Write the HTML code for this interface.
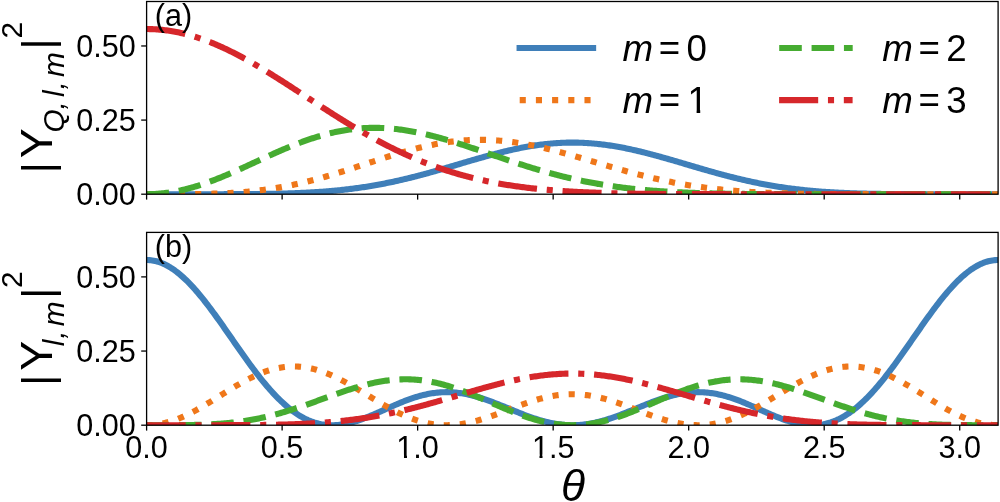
<!DOCTYPE html>
<html lang="en"><head><meta charset="utf-8"><title>Monopole harmonics</title>
<style>
html,body{margin:0;padding:0;background:#fff;}
body{width:1000px;height:502px;overflow:hidden;}
svg{display:block;will-change:transform;}
text{font-family:"Liberation Sans", sans-serif;fill:#000;}
.it{font-style:italic;}
</style></head><body>
<svg width="1000" height="502" viewBox="0 0 1000 502">
<rect width="1000" height="502" fill="#fff"/>
<defs>
<clipPath id="ca"><rect x="146.60" y="1.50" width="851.50" height="192.70"/></clipPath>
<clipPath id="cb"><rect x="146.60" y="232.40" width="851.50" height="192.80"/></clipPath>
</defs>
<g clip-path="url(#ca)" fill="none" stroke-width="6.107" stroke-linejoin="round">
<path d="M146.60,194.20 L148.02,194.20 L149.44,194.20 L150.86,194.20 L152.28,194.20 L153.70,194.20 L155.11,194.20 L156.53,194.20 L157.95,194.20 L159.37,194.20 L160.79,194.20 L162.21,194.20 L163.63,194.20 L165.05,194.20 L166.47,194.20 L167.89,194.20 L169.31,194.20 L170.73,194.20 L172.14,194.20 L173.56,194.20 L174.98,194.20 L176.40,194.20 L177.82,194.20 L179.24,194.20 L180.66,194.20 L182.08,194.20 L183.50,194.20 L184.92,194.20 L186.34,194.20 L187.76,194.20 L189.18,194.20 L190.59,194.20 L192.01,194.20 L193.43,194.20 L194.85,194.20 L196.27,194.20 L197.69,194.20 L199.11,194.20 L200.53,194.20 L201.95,194.20 L203.37,194.20 L204.79,194.20 L206.20,194.19 L207.62,194.19 L209.04,194.19 L210.46,194.19 L211.88,194.19 L213.30,194.19 L214.72,194.19 L216.14,194.19 L217.56,194.18 L218.98,194.18 L220.40,194.18 L221.82,194.18 L223.23,194.18 L224.65,194.17 L226.07,194.17 L227.49,194.17 L228.91,194.16 L230.33,194.16 L231.75,194.16 L233.17,194.15 L234.59,194.15 L236.01,194.14 L237.43,194.13 L238.85,194.13 L240.26,194.12 L241.68,194.11 L243.10,194.11 L244.52,194.10 L245.94,194.09 L247.36,194.08 L248.78,194.07 L250.20,194.06 L251.62,194.05 L253.04,194.04 L254.46,194.03 L255.88,194.01 L257.29,194.00 L258.71,193.98 L260.13,193.97 L261.55,193.95 L262.97,193.93 L264.39,193.91 L265.81,193.89 L267.23,193.87 L268.65,193.85 L270.07,193.83 L271.49,193.80 L272.91,193.78 L274.32,193.75 L275.74,193.72 L277.16,193.69 L278.58,193.66 L280.00,193.63 L281.42,193.59 L282.84,193.55 L284.26,193.52 L285.68,193.48 L287.10,193.44 L288.52,193.39 L289.94,193.35 L291.36,193.30 L292.77,193.25 L294.19,193.20 L295.61,193.15 L297.03,193.10 L298.45,193.04 L299.87,192.98 L301.29,192.92 L302.71,192.85 L304.13,192.79 L305.55,192.72 L306.97,192.65 L308.38,192.57 L309.80,192.50 L311.22,192.42 L312.64,192.33 L314.06,192.25 L315.48,192.16 L316.90,192.07 L318.32,191.98 L319.74,191.88 L321.16,191.78 L322.58,191.68 L324.00,191.57 L325.41,191.46 L326.83,191.35 L328.25,191.24 L329.67,191.12 L331.09,190.99 L332.51,190.87 L333.93,190.74 L335.35,190.61 L336.77,190.47 L338.19,190.33 L339.61,190.18 L341.03,190.04 L342.44,189.88 L343.86,189.73 L345.28,189.57 L346.70,189.40 L348.12,189.24 L349.54,189.07 L350.96,188.89 L352.38,188.71 L353.80,188.53 L355.22,188.34 L356.64,188.15 L358.06,187.95 L359.47,187.75 L360.89,187.54 L362.31,187.34 L363.73,187.12 L365.15,186.90 L366.57,186.68 L367.99,186.46 L369.41,186.23 L370.83,185.99 L372.25,185.75 L373.67,185.51 L375.09,185.26 L376.50,185.01 L377.92,184.75 L379.34,184.49 L380.76,184.22 L382.18,183.95 L383.60,183.68 L385.02,183.40 L386.44,183.12 L387.86,182.83 L389.28,182.54 L390.70,182.24 L392.12,181.94 L393.53,181.64 L394.95,181.33 L396.37,181.02 L397.79,180.70 L399.21,180.38 L400.63,180.06 L402.05,179.73 L403.47,179.40 L404.89,179.06 L406.31,178.72 L407.73,178.38 L409.15,178.03 L410.56,177.68 L411.98,177.33 L413.40,176.97 L414.82,176.61 L416.24,176.24 L417.66,175.87 L419.08,175.50 L420.50,175.13 L421.92,174.75 L423.34,174.37 L424.76,173.99 L426.18,173.60 L427.60,173.21 L429.01,172.82 L430.43,172.43 L431.85,172.03 L433.27,171.63 L434.69,171.23 L436.11,170.83 L437.53,170.43 L438.95,170.02 L440.37,169.61 L441.79,169.20 L443.21,168.79 L444.62,168.38 L446.04,167.96 L447.46,167.55 L448.88,167.13 L450.30,166.72 L451.72,166.30 L453.14,165.88 L454.56,165.46 L455.98,165.04 L457.40,164.62 L458.82,164.20 L460.24,163.78 L461.65,163.36 L463.07,162.94 L464.49,162.53 L465.91,162.11 L467.33,161.69 L468.75,161.27 L470.17,160.86 L471.59,160.44 L473.01,160.03 L474.43,159.62 L475.85,159.21 L477.27,158.80 L478.68,158.40 L480.10,157.99 L481.52,157.59 L482.94,157.19 L484.36,156.80 L485.78,156.40 L487.20,156.01 L488.62,155.62 L490.04,155.24 L491.46,154.85 L492.88,154.48 L494.30,154.10 L495.71,153.73 L497.13,153.36 L498.55,153.00 L499.97,152.64 L501.39,152.29 L502.81,151.93 L504.23,151.59 L505.65,151.25 L507.07,150.91 L508.49,150.58 L509.91,150.25 L511.33,149.93 L512.75,149.62 L514.16,149.31 L515.58,149.00 L517.00,148.70 L518.42,148.41 L519.84,148.12 L521.26,147.84 L522.68,147.57 L524.10,147.30 L525.52,147.04 L526.94,146.78 L528.36,146.53 L529.77,146.29 L531.19,146.06 L532.61,145.83 L534.03,145.61 L535.45,145.39 L536.87,145.19 L538.29,144.99 L539.71,144.80 L541.13,144.61 L542.55,144.44 L543.97,144.27 L545.39,144.11 L546.80,143.95 L548.22,143.81 L549.64,143.67 L551.06,143.54 L552.48,143.42 L553.90,143.31 L555.32,143.20 L556.74,143.10 L558.16,143.02 L559.58,142.94 L561.00,142.86 L562.42,142.80 L563.84,142.75 L565.25,142.70 L566.67,142.66 L568.09,142.63 L569.51,142.61 L570.93,142.60 L572.35,142.59 L573.77,142.60 L575.19,142.61 L576.61,142.63 L578.03,142.66 L579.45,142.70 L580.87,142.75 L582.28,142.80 L583.70,142.86 L585.12,142.94 L586.54,143.02 L587.96,143.10 L589.38,143.20 L590.80,143.31 L592.22,143.42 L593.64,143.54 L595.06,143.67 L596.48,143.81 L597.89,143.95 L599.31,144.11 L600.73,144.27 L602.15,144.44 L603.57,144.61 L604.99,144.80 L606.41,144.99 L607.83,145.19 L609.25,145.39 L610.67,145.61 L612.09,145.83 L613.51,146.06 L614.92,146.29 L616.34,146.53 L617.76,146.78 L619.18,147.04 L620.60,147.30 L622.02,147.57 L623.44,147.84 L624.86,148.12 L626.28,148.41 L627.70,148.70 L629.12,149.00 L630.54,149.31 L631.95,149.62 L633.37,149.93 L634.79,150.25 L636.21,150.58 L637.63,150.91 L639.05,151.25 L640.47,151.59 L641.89,151.93 L643.31,152.29 L644.73,152.64 L646.15,153.00 L647.57,153.36 L648.99,153.73 L650.40,154.10 L651.82,154.48 L653.24,154.85 L654.66,155.24 L656.08,155.62 L657.50,156.01 L658.92,156.40 L660.34,156.80 L661.76,157.19 L663.18,157.59 L664.60,157.99 L666.01,158.40 L667.43,158.80 L668.85,159.21 L670.27,159.62 L671.69,160.03 L673.11,160.44 L674.53,160.86 L675.95,161.27 L677.37,161.69 L678.79,162.11 L680.21,162.53 L681.63,162.94 L683.05,163.36 L684.46,163.78 L685.88,164.20 L687.30,164.62 L688.72,165.04 L690.14,165.46 L691.56,165.88 L692.98,166.30 L694.40,166.72 L695.82,167.13 L697.24,167.55 L698.66,167.96 L700.08,168.38 L701.49,168.79 L702.91,169.20 L704.33,169.61 L705.75,170.02 L707.17,170.43 L708.59,170.83 L710.01,171.23 L711.43,171.63 L712.85,172.03 L714.27,172.43 L715.69,172.82 L717.10,173.21 L718.52,173.60 L719.94,173.99 L721.36,174.37 L722.78,174.75 L724.20,175.13 L725.62,175.50 L727.04,175.87 L728.46,176.24 L729.88,176.61 L731.30,176.97 L732.72,177.33 L734.13,177.68 L735.55,178.03 L736.97,178.38 L738.39,178.72 L739.81,179.06 L741.23,179.40 L742.65,179.73 L744.07,180.06 L745.49,180.38 L746.91,180.70 L748.33,181.02 L749.75,181.33 L751.16,181.64 L752.58,181.94 L754.00,182.24 L755.42,182.54 L756.84,182.83 L758.26,183.12 L759.68,183.40 L761.10,183.68 L762.52,183.95 L763.94,184.22 L765.36,184.49 L766.78,184.75 L768.20,185.01 L769.61,185.26 L771.03,185.51 L772.45,185.75 L773.87,185.99 L775.29,186.23 L776.71,186.46 L778.13,186.68 L779.55,186.90 L780.97,187.12 L782.39,187.34 L783.81,187.54 L785.23,187.75 L786.64,187.95 L788.06,188.15 L789.48,188.34 L790.90,188.53 L792.32,188.71 L793.74,188.89 L795.16,189.07 L796.58,189.24 L798.00,189.40 L799.42,189.57 L800.84,189.73 L802.25,189.88 L803.67,190.04 L805.09,190.18 L806.51,190.33 L807.93,190.47 L809.35,190.61 L810.77,190.74 L812.19,190.87 L813.61,190.99 L815.03,191.12 L816.45,191.24 L817.87,191.35 L819.28,191.46 L820.70,191.57 L822.12,191.68 L823.54,191.78 L824.96,191.88 L826.38,191.98 L827.80,192.07 L829.22,192.16 L830.64,192.25 L832.06,192.33 L833.48,192.42 L834.90,192.50 L836.32,192.57 L837.73,192.65 L839.15,192.72 L840.57,192.79 L841.99,192.85 L843.41,192.92 L844.83,192.98 L846.25,193.04 L847.67,193.10 L849.09,193.15 L850.51,193.20 L851.93,193.25 L853.35,193.30 L854.76,193.35 L856.18,193.39 L857.60,193.44 L859.02,193.48 L860.44,193.52 L861.86,193.55 L863.28,193.59 L864.70,193.63 L866.12,193.66 L867.54,193.69 L868.96,193.72 L870.38,193.75 L871.79,193.78 L873.21,193.80 L874.63,193.83 L876.05,193.85 L877.47,193.87 L878.89,193.89 L880.31,193.91 L881.73,193.93 L883.15,193.95 L884.57,193.97 L885.99,193.98 L887.40,194.00 L888.82,194.01 L890.24,194.03 L891.66,194.04 L893.08,194.05 L894.50,194.06 L895.92,194.07 L897.34,194.08 L898.76,194.09 L900.18,194.10 L901.60,194.11 L903.02,194.11 L904.43,194.12 L905.85,194.13 L907.27,194.13 L908.69,194.14 L910.11,194.15 L911.53,194.15 L912.95,194.16 L914.37,194.16 L915.79,194.16 L917.21,194.17 L918.63,194.17 L920.05,194.17 L921.47,194.18 L922.88,194.18 L924.30,194.18 L925.72,194.18 L927.14,194.18 L928.56,194.19 L929.98,194.19 L931.40,194.19 L932.82,194.19 L934.24,194.19 L935.66,194.19 L937.08,194.19 L938.50,194.19 L939.91,194.20 L941.33,194.20 L942.75,194.20 L944.17,194.20 L945.59,194.20 L947.01,194.20 L948.43,194.20 L949.85,194.20 L951.27,194.20 L952.69,194.20 L954.11,194.20 L955.52,194.20 L956.94,194.20 L958.36,194.20 L959.78,194.20 L961.20,194.20 L962.62,194.20 L964.04,194.20 L965.46,194.20 L966.88,194.20 L968.30,194.20 L969.72,194.20 L971.14,194.20 L972.55,194.20 L973.97,194.20 L975.39,194.20 L976.81,194.20 L978.23,194.20 L979.65,194.20 L981.07,194.20 L982.49,194.20 L983.91,194.20 L985.33,194.20 L986.75,194.20 L988.17,194.20 L989.59,194.20 L991.00,194.20 L992.42,194.20 L993.84,194.20 L995.26,194.20 L996.68,194.20 L998.10,194.20" stroke="#3f7fb9" stroke-linecap="square"/>
<path d="M146.60,194.20 L148.02,194.20 L149.44,194.20 L150.86,194.20 L152.28,194.20 L153.70,194.20 L155.11,194.20 L156.53,194.20 L157.95,194.20 L159.37,194.20 L160.79,194.20 L162.21,194.20 L163.63,194.20 L165.05,194.20 L166.47,194.20 L167.89,194.19 L169.31,194.19 L170.73,194.19 L172.14,194.19 L173.56,194.19 L174.98,194.18 L176.40,194.18 L177.82,194.17 L179.24,194.17 L180.66,194.16 L182.08,194.16 L183.50,194.15 L184.92,194.14 L186.34,194.13 L187.76,194.12 L189.18,194.11 L190.59,194.10 L192.01,194.08 L193.43,194.07 L194.85,194.05 L196.27,194.03 L197.69,194.01 L199.11,193.99 L200.53,193.97 L201.95,193.94 L203.37,193.92 L204.79,193.89 L206.20,193.86 L207.62,193.83 L209.04,193.79 L210.46,193.75 L211.88,193.71 L213.30,193.67 L214.72,193.63 L216.14,193.58 L217.56,193.53 L218.98,193.48 L220.40,193.42 L221.82,193.36 L223.23,193.30 L224.65,193.23 L226.07,193.17 L227.49,193.09 L228.91,193.02 L230.33,192.94 L231.75,192.86 L233.17,192.77 L234.59,192.68 L236.01,192.59 L237.43,192.49 L238.85,192.39 L240.26,192.28 L241.68,192.17 L243.10,192.06 L244.52,191.94 L245.94,191.81 L247.36,191.69 L248.78,191.55 L250.20,191.42 L251.62,191.27 L253.04,191.13 L254.46,190.98 L255.88,190.82 L257.29,190.66 L258.71,190.49 L260.13,190.32 L261.55,190.14 L262.97,189.96 L264.39,189.78 L265.81,189.58 L267.23,189.39 L268.65,189.18 L270.07,188.98 L271.49,188.76 L272.91,188.54 L274.32,188.32 L275.74,188.09 L277.16,187.86 L278.58,187.62 L280.00,187.37 L281.42,187.12 L282.84,186.86 L284.26,186.60 L285.68,186.33 L287.10,186.06 L288.52,185.78 L289.94,185.49 L291.36,185.20 L292.77,184.91 L294.19,184.61 L295.61,184.30 L297.03,183.99 L298.45,183.67 L299.87,183.35 L301.29,183.02 L302.71,182.69 L304.13,182.35 L305.55,182.00 L306.97,181.66 L308.38,181.30 L309.80,180.94 L311.22,180.58 L312.64,180.21 L314.06,179.84 L315.48,179.46 L316.90,179.08 L318.32,178.69 L319.74,178.30 L321.16,177.91 L322.58,177.51 L324.00,177.10 L325.41,176.70 L326.83,176.28 L328.25,175.87 L329.67,175.45 L331.09,175.03 L332.51,174.60 L333.93,174.17 L335.35,173.74 L336.77,173.30 L338.19,172.86 L339.61,172.42 L341.03,171.97 L342.44,171.53 L343.86,171.08 L345.28,170.62 L346.70,170.17 L348.12,169.71 L349.54,169.25 L350.96,168.79 L352.38,168.33 L353.80,167.87 L355.22,167.40 L356.64,166.94 L358.06,166.47 L359.47,166.00 L360.89,165.53 L362.31,165.06 L363.73,164.59 L365.15,164.12 L366.57,163.65 L367.99,163.19 L369.41,162.72 L370.83,162.25 L372.25,161.78 L373.67,161.31 L375.09,160.85 L376.50,160.38 L377.92,159.92 L379.34,159.45 L380.76,158.99 L382.18,158.53 L383.60,158.08 L385.02,157.62 L386.44,157.17 L387.86,156.72 L389.28,156.27 L390.70,155.83 L392.12,155.39 L393.53,154.95 L394.95,154.52 L396.37,154.08 L397.79,153.66 L399.21,153.23 L400.63,152.81 L402.05,152.40 L403.47,151.99 L404.89,151.58 L406.31,151.18 L407.73,150.78 L409.15,150.39 L410.56,150.01 L411.98,149.62 L413.40,149.25 L414.82,148.88 L416.24,148.51 L417.66,148.15 L419.08,147.80 L420.50,147.46 L421.92,147.12 L423.34,146.78 L424.76,146.45 L426.18,146.13 L427.60,145.82 L429.01,145.51 L430.43,145.21 L431.85,144.92 L433.27,144.64 L434.69,144.36 L436.11,144.09 L437.53,143.82 L438.95,143.57 L440.37,143.32 L441.79,143.08 L443.21,142.85 L444.62,142.63 L446.04,142.41 L447.46,142.21 L448.88,142.01 L450.30,141.82 L451.72,141.63 L453.14,141.46 L454.56,141.30 L455.98,141.14 L457.40,140.99 L458.82,140.85 L460.24,140.72 L461.65,140.60 L463.07,140.49 L464.49,140.38 L465.91,140.29 L467.33,140.20 L468.75,140.13 L470.17,140.06 L471.59,140.00 L473.01,139.95 L474.43,139.91 L475.85,139.88 L477.27,139.85 L478.68,139.84 L480.10,139.83 L481.52,139.84 L482.94,139.85 L484.36,139.87 L485.78,139.90 L487.20,139.94 L488.62,139.99 L490.04,140.04 L491.46,140.11 L492.88,140.18 L494.30,140.27 L495.71,140.36 L497.13,140.46 L498.55,140.57 L499.97,140.68 L501.39,140.81 L502.81,140.94 L504.23,141.08 L505.65,141.23 L507.07,141.39 L508.49,141.56 L509.91,141.73 L511.33,141.91 L512.75,142.10 L514.16,142.30 L515.58,142.50 L517.00,142.72 L518.42,142.94 L519.84,143.16 L521.26,143.40 L522.68,143.64 L524.10,143.88 L525.52,144.14 L526.94,144.40 L528.36,144.67 L529.77,144.94 L531.19,145.22 L532.61,145.51 L534.03,145.80 L535.45,146.10 L536.87,146.40 L538.29,146.71 L539.71,147.03 L541.13,147.35 L542.55,147.68 L543.97,148.01 L545.39,148.34 L546.80,148.68 L548.22,149.03 L549.64,149.38 L551.06,149.74 L552.48,150.09 L553.90,150.46 L555.32,150.83 L556.74,151.20 L558.16,151.57 L559.58,151.95 L561.00,152.33 L562.42,152.72 L563.84,153.11 L565.25,153.50 L566.67,153.89 L568.09,154.29 L569.51,154.69 L570.93,155.09 L572.35,155.49 L573.77,155.90 L575.19,156.31 L576.61,156.72 L578.03,157.13 L579.45,157.55 L580.87,157.96 L582.28,158.38 L583.70,158.79 L585.12,159.21 L586.54,159.63 L587.96,160.05 L589.38,160.47 L590.80,160.89 L592.22,161.31 L593.64,161.73 L595.06,162.15 L596.48,162.58 L597.89,163.00 L599.31,163.42 L600.73,163.84 L602.15,164.26 L603.57,164.68 L604.99,165.09 L606.41,165.51 L607.83,165.93 L609.25,166.34 L610.67,166.76 L612.09,167.17 L613.51,167.58 L614.92,167.99 L616.34,168.40 L617.76,168.80 L619.18,169.21 L620.60,169.61 L622.02,170.01 L623.44,170.40 L624.86,170.80 L626.28,171.19 L627.70,171.58 L629.12,171.97 L630.54,172.36 L631.95,172.74 L633.37,173.12 L634.79,173.49 L636.21,173.87 L637.63,174.24 L639.05,174.61 L640.47,174.97 L641.89,175.33 L643.31,175.69 L644.73,176.05 L646.15,176.40 L647.57,176.74 L648.99,177.09 L650.40,177.43 L651.82,177.77 L653.24,178.10 L654.66,178.43 L656.08,178.76 L657.50,179.08 L658.92,179.40 L660.34,179.71 L661.76,180.03 L663.18,180.33 L664.60,180.64 L666.01,180.94 L667.43,181.23 L668.85,181.52 L670.27,181.81 L671.69,182.10 L673.11,182.38 L674.53,182.65 L675.95,182.92 L677.37,183.19 L678.79,183.45 L680.21,183.71 L681.63,183.97 L683.05,184.22 L684.46,184.47 L685.88,184.71 L687.30,184.95 L688.72,185.19 L690.14,185.42 L691.56,185.65 L692.98,185.87 L694.40,186.09 L695.82,186.30 L697.24,186.52 L698.66,186.72 L700.08,186.93 L701.49,187.13 L702.91,187.32 L704.33,187.52 L705.75,187.70 L707.17,187.89 L708.59,188.07 L710.01,188.25 L711.43,188.42 L712.85,188.59 L714.27,188.76 L715.69,188.92 L717.10,189.08 L718.52,189.23 L719.94,189.39 L721.36,189.54 L722.78,189.68 L724.20,189.82 L725.62,189.96 L727.04,190.10 L728.46,190.23 L729.88,190.36 L731.30,190.48 L732.72,190.61 L734.13,190.73 L735.55,190.84 L736.97,190.96 L738.39,191.07 L739.81,191.18 L741.23,191.28 L742.65,191.38 L744.07,191.48 L745.49,191.58 L746.91,191.67 L748.33,191.76 L749.75,191.85 L751.16,191.94 L752.58,192.02 L754.00,192.10 L755.42,192.18 L756.84,192.26 L758.26,192.33 L759.68,192.41 L761.10,192.48 L762.52,192.54 L763.94,192.61 L765.36,192.67 L766.78,192.73 L768.20,192.79 L769.61,192.85 L771.03,192.91 L772.45,192.96 L773.87,193.01 L775.29,193.06 L776.71,193.11 L778.13,193.16 L779.55,193.20 L780.97,193.25 L782.39,193.29 L783.81,193.33 L785.23,193.37 L786.64,193.41 L788.06,193.44 L789.48,193.48 L790.90,193.51 L792.32,193.54 L793.74,193.58 L795.16,193.61 L796.58,193.63 L798.00,193.66 L799.42,193.69 L800.84,193.71 L802.25,193.74 L803.67,193.76 L805.09,193.78 L806.51,193.80 L807.93,193.83 L809.35,193.84 L810.77,193.86 L812.19,193.88 L813.61,193.90 L815.03,193.91 L816.45,193.93 L817.87,193.95 L819.28,193.96 L820.70,193.97 L822.12,193.99 L823.54,194.00 L824.96,194.01 L826.38,194.02 L827.80,194.03 L829.22,194.04 L830.64,194.05 L832.06,194.06 L833.48,194.07 L834.90,194.08 L836.32,194.08 L837.73,194.09 L839.15,194.10 L840.57,194.11 L841.99,194.11 L843.41,194.12 L844.83,194.12 L846.25,194.13 L847.67,194.13 L849.09,194.14 L850.51,194.14 L851.93,194.15 L853.35,194.15 L854.76,194.15 L856.18,194.16 L857.60,194.16 L859.02,194.16 L860.44,194.17 L861.86,194.17 L863.28,194.17 L864.70,194.17 L866.12,194.17 L867.54,194.18 L868.96,194.18 L870.38,194.18 L871.79,194.18 L873.21,194.18 L874.63,194.18 L876.05,194.19 L877.47,194.19 L878.89,194.19 L880.31,194.19 L881.73,194.19 L883.15,194.19 L884.57,194.19 L885.99,194.19 L887.40,194.19 L888.82,194.19 L890.24,194.19 L891.66,194.20 L893.08,194.20 L894.50,194.20 L895.92,194.20 L897.34,194.20 L898.76,194.20 L900.18,194.20 L901.60,194.20 L903.02,194.20 L904.43,194.20 L905.85,194.20 L907.27,194.20 L908.69,194.20 L910.11,194.20 L911.53,194.20 L912.95,194.20 L914.37,194.20 L915.79,194.20 L917.21,194.20 L918.63,194.20 L920.05,194.20 L921.47,194.20 L922.88,194.20 L924.30,194.20 L925.72,194.20 L927.14,194.20 L928.56,194.20 L929.98,194.20 L931.40,194.20 L932.82,194.20 L934.24,194.20 L935.66,194.20 L937.08,194.20 L938.50,194.20 L939.91,194.20 L941.33,194.20 L942.75,194.20 L944.17,194.20 L945.59,194.20 L947.01,194.20 L948.43,194.20 L949.85,194.20 L951.27,194.20 L952.69,194.20 L954.11,194.20 L955.52,194.20 L956.94,194.20 L958.36,194.20 L959.78,194.20 L961.20,194.20 L962.62,194.20 L964.04,194.20 L965.46,194.20 L966.88,194.20 L968.30,194.20 L969.72,194.20 L971.14,194.20 L972.55,194.20 L973.97,194.20 L975.39,194.20 L976.81,194.20 L978.23,194.20 L979.65,194.20 L981.07,194.20 L982.49,194.20 L983.91,194.20 L985.33,194.20 L986.75,194.20 L988.17,194.20 L989.59,194.20 L991.00,194.20 L992.42,194.20 L993.84,194.20 L995.26,194.20 L996.68,194.20 L998.10,194.20" stroke="#ef771a" stroke-dasharray="6.11 10.08"/>
<path d="M146.60,194.20 L148.02,194.19 L149.44,194.17 L150.86,194.14 L152.28,194.09 L153.70,194.03 L155.11,193.96 L156.53,193.87 L157.95,193.77 L159.37,193.65 L160.79,193.52 L162.21,193.38 L163.63,193.23 L165.05,193.06 L166.47,192.88 L167.89,192.68 L169.31,192.48 L170.73,192.26 L172.14,192.03 L173.56,191.78 L174.98,191.52 L176.40,191.25 L177.82,190.97 L179.24,190.68 L180.66,190.37 L182.08,190.05 L183.50,189.72 L184.92,189.38 L186.34,189.03 L187.76,188.66 L189.18,188.29 L190.59,187.90 L192.01,187.50 L193.43,187.09 L194.85,186.67 L196.27,186.25 L197.69,185.81 L199.11,185.36 L200.53,184.90 L201.95,184.43 L203.37,183.95 L204.79,183.47 L206.20,182.97 L207.62,182.47 L209.04,181.95 L210.46,181.43 L211.88,180.90 L213.30,180.36 L214.72,179.82 L216.14,179.27 L217.56,178.71 L218.98,178.14 L220.40,177.57 L221.82,176.99 L223.23,176.41 L224.65,175.81 L226.07,175.22 L227.49,174.61 L228.91,174.01 L230.33,173.39 L231.75,172.78 L233.17,172.16 L234.59,171.53 L236.01,170.90 L237.43,170.27 L238.85,169.63 L240.26,168.99 L241.68,168.35 L243.10,167.70 L244.52,167.06 L245.94,166.41 L247.36,165.76 L248.78,165.10 L250.20,164.45 L251.62,163.79 L253.04,163.14 L254.46,162.48 L255.88,161.83 L257.29,161.17 L258.71,160.51 L260.13,159.86 L261.55,159.20 L262.97,158.55 L264.39,157.90 L265.81,157.25 L267.23,156.60 L268.65,155.96 L270.07,155.31 L271.49,154.67 L272.91,154.03 L274.32,153.40 L275.74,152.77 L277.16,152.14 L278.58,151.51 L280.00,150.89 L281.42,150.28 L282.84,149.67 L284.26,149.06 L285.68,148.46 L287.10,147.86 L288.52,147.27 L289.94,146.69 L291.36,146.11 L292.77,145.53 L294.19,144.97 L295.61,144.41 L297.03,143.85 L298.45,143.31 L299.87,142.77 L301.29,142.24 L302.71,141.71 L304.13,141.19 L305.55,140.69 L306.97,140.18 L308.38,139.69 L309.80,139.21 L311.22,138.73 L312.64,138.26 L314.06,137.81 L315.48,137.36 L316.90,136.92 L318.32,136.48 L319.74,136.06 L321.16,135.65 L322.58,135.25 L324.00,134.85 L325.41,134.47 L326.83,134.10 L328.25,133.74 L329.67,133.38 L331.09,133.04 L332.51,132.71 L333.93,132.39 L335.35,132.08 L336.77,131.78 L338.19,131.49 L339.61,131.21 L341.03,130.94 L342.44,130.68 L343.86,130.43 L345.28,130.20 L346.70,129.98 L348.12,129.76 L349.54,129.56 L350.96,129.37 L352.38,129.19 L353.80,129.02 L355.22,128.86 L356.64,128.72 L358.06,128.58 L359.47,128.46 L360.89,128.35 L362.31,128.24 L363.73,128.15 L365.15,128.08 L366.57,128.01 L367.99,127.95 L369.41,127.91 L370.83,127.87 L372.25,127.85 L373.67,127.84 L375.09,127.83 L376.50,127.84 L377.92,127.86 L379.34,127.89 L380.76,127.94 L382.18,127.99 L383.60,128.05 L385.02,128.13 L386.44,128.21 L387.86,128.30 L389.28,128.41 L390.70,128.52 L392.12,128.65 L393.53,128.78 L394.95,128.93 L396.37,129.08 L397.79,129.25 L399.21,129.42 L400.63,129.60 L402.05,129.80 L403.47,130.00 L404.89,130.21 L406.31,130.43 L407.73,130.66 L409.15,130.90 L410.56,131.14 L411.98,131.40 L413.40,131.66 L414.82,131.93 L416.24,132.21 L417.66,132.50 L419.08,132.79 L420.50,133.10 L421.92,133.41 L423.34,133.72 L424.76,134.05 L426.18,134.38 L427.60,134.72 L429.01,135.06 L430.43,135.42 L431.85,135.78 L433.27,136.14 L434.69,136.51 L436.11,136.89 L437.53,137.27 L438.95,137.66 L440.37,138.05 L441.79,138.45 L443.21,138.86 L444.62,139.27 L446.04,139.68 L447.46,140.10 L448.88,140.52 L450.30,140.95 L451.72,141.38 L453.14,141.82 L454.56,142.26 L455.98,142.70 L457.40,143.15 L458.82,143.60 L460.24,144.06 L461.65,144.51 L463.07,144.97 L464.49,145.43 L465.91,145.90 L467.33,146.37 L468.75,146.84 L470.17,147.31 L471.59,147.78 L473.01,148.26 L474.43,148.74 L475.85,149.22 L477.27,149.70 L478.68,150.18 L480.10,150.66 L481.52,151.14 L482.94,151.63 L484.36,152.11 L485.78,152.60 L487.20,153.08 L488.62,153.57 L490.04,154.05 L491.46,154.54 L492.88,155.03 L494.30,155.51 L495.71,156.00 L497.13,156.48 L498.55,156.96 L499.97,157.45 L501.39,157.93 L502.81,158.41 L504.23,158.89 L505.65,159.37 L507.07,159.84 L508.49,160.32 L509.91,160.79 L511.33,161.26 L512.75,161.73 L514.16,162.20 L515.58,162.67 L517.00,163.13 L518.42,163.59 L519.84,164.05 L521.26,164.51 L522.68,164.96 L524.10,165.41 L525.52,165.86 L526.94,166.31 L528.36,166.75 L529.77,167.19 L531.19,167.63 L532.61,168.06 L534.03,168.49 L535.45,168.92 L536.87,169.34 L538.29,169.76 L539.71,170.18 L541.13,170.59 L542.55,171.00 L543.97,171.41 L545.39,171.81 L546.80,172.21 L548.22,172.61 L549.64,173.00 L551.06,173.39 L552.48,173.77 L553.90,174.15 L555.32,174.53 L556.74,174.90 L558.16,175.27 L559.58,175.63 L561.00,175.99 L562.42,176.34 L563.84,176.70 L565.25,177.04 L566.67,177.39 L568.09,177.73 L569.51,178.06 L570.93,178.39 L572.35,178.72 L573.77,179.04 L575.19,179.36 L576.61,179.67 L578.03,179.98 L579.45,180.29 L580.87,180.59 L582.28,180.88 L583.70,181.18 L585.12,181.46 L586.54,181.75 L587.96,182.03 L589.38,182.30 L590.80,182.57 L592.22,182.84 L593.64,183.10 L595.06,183.36 L596.48,183.62 L597.89,183.87 L599.31,184.11 L600.73,184.35 L602.15,184.59 L603.57,184.83 L604.99,185.06 L606.41,185.28 L607.83,185.50 L609.25,185.72 L610.67,185.93 L612.09,186.14 L613.51,186.35 L614.92,186.55 L616.34,186.75 L617.76,186.94 L619.18,187.14 L620.60,187.32 L622.02,187.51 L623.44,187.69 L624.86,187.86 L626.28,188.03 L627.70,188.20 L629.12,188.37 L630.54,188.53 L631.95,188.69 L633.37,188.85 L634.79,189.00 L636.21,189.15 L637.63,189.29 L639.05,189.43 L640.47,189.57 L641.89,189.71 L643.31,189.84 L644.73,189.97 L646.15,190.10 L647.57,190.22 L648.99,190.34 L650.40,190.46 L651.82,190.57 L653.24,190.69 L654.66,190.80 L656.08,190.90 L657.50,191.01 L658.92,191.11 L660.34,191.21 L661.76,191.30 L663.18,191.40 L664.60,191.49 L666.01,191.58 L667.43,191.67 L668.85,191.75 L670.27,191.83 L671.69,191.91 L673.11,191.99 L674.53,192.07 L675.95,192.14 L677.37,192.21 L678.79,192.28 L680.21,192.35 L681.63,192.41 L683.05,192.48 L684.46,192.54 L685.88,192.60 L687.30,192.66 L688.72,192.71 L690.14,192.77 L691.56,192.82 L692.98,192.87 L694.40,192.92 L695.82,192.97 L697.24,193.02 L698.66,193.06 L700.08,193.11 L701.49,193.15 L702.91,193.19 L704.33,193.23 L705.75,193.27 L707.17,193.31 L708.59,193.34 L710.01,193.38 L711.43,193.41 L712.85,193.44 L714.27,193.47 L715.69,193.50 L717.10,193.53 L718.52,193.56 L719.94,193.59 L721.36,193.61 L722.78,193.64 L724.20,193.66 L725.62,193.69 L727.04,193.71 L728.46,193.73 L729.88,193.75 L731.30,193.77 L732.72,193.79 L734.13,193.81 L735.55,193.83 L736.97,193.85 L738.39,193.86 L739.81,193.88 L741.23,193.89 L742.65,193.91 L744.07,193.92 L745.49,193.93 L746.91,193.95 L748.33,193.96 L749.75,193.97 L751.16,193.98 L752.58,193.99 L754.00,194.00 L755.42,194.01 L756.84,194.02 L758.26,194.03 L759.68,194.04 L761.10,194.05 L762.52,194.06 L763.94,194.06 L765.36,194.07 L766.78,194.08 L768.20,194.09 L769.61,194.09 L771.03,194.10 L772.45,194.10 L773.87,194.11 L775.29,194.11 L776.71,194.12 L778.13,194.12 L779.55,194.13 L780.97,194.13 L782.39,194.14 L783.81,194.14 L785.23,194.14 L786.64,194.15 L788.06,194.15 L789.48,194.15 L790.90,194.16 L792.32,194.16 L793.74,194.16 L795.16,194.16 L796.58,194.17 L798.00,194.17 L799.42,194.17 L800.84,194.17 L802.25,194.17 L803.67,194.18 L805.09,194.18 L806.51,194.18 L807.93,194.18 L809.35,194.18 L810.77,194.18 L812.19,194.18 L813.61,194.18 L815.03,194.19 L816.45,194.19 L817.87,194.19 L819.28,194.19 L820.70,194.19 L822.12,194.19 L823.54,194.19 L824.96,194.19 L826.38,194.19 L827.80,194.19 L829.22,194.19 L830.64,194.19 L832.06,194.19 L833.48,194.19 L834.90,194.20 L836.32,194.20 L837.73,194.20 L839.15,194.20 L840.57,194.20 L841.99,194.20 L843.41,194.20 L844.83,194.20 L846.25,194.20 L847.67,194.20 L849.09,194.20 L850.51,194.20 L851.93,194.20 L853.35,194.20 L854.76,194.20 L856.18,194.20 L857.60,194.20 L859.02,194.20 L860.44,194.20 L861.86,194.20 L863.28,194.20 L864.70,194.20 L866.12,194.20 L867.54,194.20 L868.96,194.20 L870.38,194.20 L871.79,194.20 L873.21,194.20 L874.63,194.20 L876.05,194.20 L877.47,194.20 L878.89,194.20 L880.31,194.20 L881.73,194.20 L883.15,194.20 L884.57,194.20 L885.99,194.20 L887.40,194.20 L888.82,194.20 L890.24,194.20 L891.66,194.20 L893.08,194.20 L894.50,194.20 L895.92,194.20 L897.34,194.20 L898.76,194.20 L900.18,194.20 L901.60,194.20 L903.02,194.20 L904.43,194.20 L905.85,194.20 L907.27,194.20 L908.69,194.20 L910.11,194.20 L911.53,194.20 L912.95,194.20 L914.37,194.20 L915.79,194.20 L917.21,194.20 L918.63,194.20 L920.05,194.20 L921.47,194.20 L922.88,194.20 L924.30,194.20 L925.72,194.20 L927.14,194.20 L928.56,194.20 L929.98,194.20 L931.40,194.20 L932.82,194.20 L934.24,194.20 L935.66,194.20 L937.08,194.20 L938.50,194.20 L939.91,194.20 L941.33,194.20 L942.75,194.20 L944.17,194.20 L945.59,194.20 L947.01,194.20 L948.43,194.20 L949.85,194.20 L951.27,194.20 L952.69,194.20 L954.11,194.20 L955.52,194.20 L956.94,194.20 L958.36,194.20 L959.78,194.20 L961.20,194.20 L962.62,194.20 L964.04,194.20 L965.46,194.20 L966.88,194.20 L968.30,194.20 L969.72,194.20 L971.14,194.20 L972.55,194.20 L973.97,194.20 L975.39,194.20 L976.81,194.20 L978.23,194.20 L979.65,194.20 L981.07,194.20 L982.49,194.20 L983.91,194.20 L985.33,194.20 L986.75,194.20 L988.17,194.20 L989.59,194.20 L991.00,194.20 L992.42,194.20 L993.84,194.20 L995.26,194.20 L996.68,194.20 L998.10,194.20" stroke="#46ac31" stroke-dasharray="22.60 9.77"/>
<path d="M146.60,29.06 L148.02,29.07 L149.44,29.09 L150.86,29.12 L152.28,29.17 L153.70,29.23 L155.11,29.30 L156.53,29.39 L157.95,29.49 L159.37,29.61 L160.79,29.74 L162.21,29.88 L163.63,30.03 L165.05,30.20 L166.47,30.38 L167.89,30.58 L169.31,30.79 L170.73,31.01 L172.14,31.24 L173.56,31.49 L174.98,31.75 L176.40,32.03 L177.82,32.31 L179.24,32.61 L180.66,32.93 L182.08,33.25 L183.50,33.59 L184.92,33.94 L186.34,34.30 L187.76,34.68 L189.18,35.06 L190.59,35.46 L192.01,35.88 L193.43,36.30 L194.85,36.74 L196.27,37.18 L197.69,37.64 L199.11,38.11 L200.53,38.59 L201.95,39.09 L203.37,39.59 L204.79,40.11 L206.20,40.64 L207.62,41.17 L209.04,41.72 L210.46,42.28 L211.88,42.85 L213.30,43.43 L214.72,44.02 L216.14,44.63 L217.56,45.24 L218.98,45.86 L220.40,46.49 L221.82,47.13 L223.23,47.78 L224.65,48.44 L226.07,49.11 L227.49,49.78 L228.91,50.47 L230.33,51.17 L231.75,51.87 L233.17,52.58 L234.59,53.30 L236.01,54.03 L237.43,54.77 L238.85,55.51 L240.26,56.27 L241.68,57.03 L243.10,57.79 L244.52,58.57 L245.94,59.35 L247.36,60.14 L248.78,60.93 L250.20,61.74 L251.62,62.54 L253.04,63.36 L254.46,64.18 L255.88,65.01 L257.29,65.84 L258.71,66.68 L260.13,67.52 L261.55,68.37 L262.97,69.22 L264.39,70.08 L265.81,70.94 L267.23,71.81 L268.65,72.68 L270.07,73.56 L271.49,74.44 L272.91,75.32 L274.32,76.21 L275.74,77.10 L277.16,78.00 L278.58,78.90 L280.00,79.80 L281.42,80.70 L282.84,81.61 L284.26,82.52 L285.68,83.43 L287.10,84.35 L288.52,85.26 L289.94,86.18 L291.36,87.10 L292.77,88.02 L294.19,88.94 L295.61,89.87 L297.03,90.79 L298.45,91.72 L299.87,92.64 L301.29,93.57 L302.71,94.50 L304.13,95.43 L305.55,96.35 L306.97,97.28 L308.38,98.21 L309.80,99.14 L311.22,100.07 L312.64,100.99 L314.06,101.92 L315.48,102.84 L316.90,103.77 L318.32,104.69 L319.74,105.61 L321.16,106.53 L322.58,107.45 L324.00,108.36 L325.41,109.28 L326.83,110.19 L328.25,111.10 L329.67,112.01 L331.09,112.91 L332.51,113.82 L333.93,114.72 L335.35,115.62 L336.77,116.51 L338.19,117.40 L339.61,118.29 L341.03,119.18 L342.44,120.06 L343.86,120.94 L345.28,121.81 L346.70,122.68 L348.12,123.55 L349.54,124.41 L350.96,125.27 L352.38,126.13 L353.80,126.98 L355.22,127.82 L356.64,128.67 L358.06,129.50 L359.47,130.34 L360.89,131.17 L362.31,131.99 L363.73,132.81 L365.15,133.62 L366.57,134.43 L367.99,135.24 L369.41,136.04 L370.83,136.83 L372.25,137.62 L373.67,138.40 L375.09,139.18 L376.50,139.95 L377.92,140.72 L379.34,141.48 L380.76,142.24 L382.18,142.99 L383.60,143.73 L385.02,144.47 L386.44,145.20 L387.86,145.93 L389.28,146.65 L390.70,147.36 L392.12,148.07 L393.53,148.77 L394.95,149.47 L396.37,150.16 L397.79,150.84 L399.21,151.52 L400.63,152.19 L402.05,152.85 L403.47,153.51 L404.89,154.17 L406.31,154.81 L407.73,155.45 L409.15,156.08 L410.56,156.71 L411.98,157.33 L413.40,157.95 L414.82,158.55 L416.24,159.15 L417.66,159.75 L419.08,160.34 L420.50,160.92 L421.92,161.49 L423.34,162.06 L424.76,162.62 L426.18,163.18 L427.60,163.73 L429.01,164.27 L430.43,164.81 L431.85,165.34 L433.27,165.86 L434.69,166.38 L436.11,166.89 L437.53,167.39 L438.95,167.89 L440.37,168.38 L441.79,168.87 L443.21,169.35 L444.62,169.82 L446.04,170.29 L447.46,170.75 L448.88,171.20 L450.30,171.65 L451.72,172.09 L453.14,172.52 L454.56,172.95 L455.98,173.38 L457.40,173.79 L458.82,174.20 L460.24,174.61 L461.65,175.01 L463.07,175.40 L464.49,175.79 L465.91,176.17 L467.33,176.54 L468.75,176.91 L470.17,177.28 L471.59,177.64 L473.01,177.99 L474.43,178.34 L475.85,178.68 L477.27,179.02 L478.68,179.35 L480.10,179.67 L481.52,179.99 L482.94,180.31 L484.36,180.61 L485.78,180.92 L487.20,181.22 L488.62,181.51 L490.04,181.80 L491.46,182.08 L492.88,182.36 L494.30,182.64 L495.71,182.91 L497.13,183.17 L498.55,183.43 L499.97,183.68 L501.39,183.93 L502.81,184.18 L504.23,184.42 L505.65,184.65 L507.07,184.89 L508.49,185.11 L509.91,185.34 L511.33,185.55 L512.75,185.77 L514.16,185.98 L515.58,186.19 L517.00,186.39 L518.42,186.58 L519.84,186.78 L521.26,186.97 L522.68,187.15 L524.10,187.34 L525.52,187.52 L526.94,187.69 L528.36,187.86 L529.77,188.03 L531.19,188.19 L532.61,188.35 L534.03,188.51 L535.45,188.66 L536.87,188.81 L538.29,188.96 L539.71,189.10 L541.13,189.24 L542.55,189.38 L543.97,189.51 L545.39,189.65 L546.80,189.77 L548.22,189.90 L549.64,190.02 L551.06,190.14 L552.48,190.26 L553.90,190.37 L555.32,190.48 L556.74,190.59 L558.16,190.70 L559.58,190.80 L561.00,190.90 L562.42,191.00 L563.84,191.09 L565.25,191.19 L566.67,191.28 L568.09,191.37 L569.51,191.45 L570.93,191.54 L572.35,191.62 L573.77,191.70 L575.19,191.78 L576.61,191.85 L578.03,191.93 L579.45,192.00 L580.87,192.07 L582.28,192.14 L583.70,192.20 L585.12,192.27 L586.54,192.33 L587.96,192.39 L589.38,192.45 L590.80,192.51 L592.22,192.57 L593.64,192.62 L595.06,192.67 L596.48,192.72 L597.89,192.77 L599.31,192.82 L600.73,192.87 L602.15,192.92 L603.57,192.96 L604.99,193.00 L606.41,193.04 L607.83,193.09 L609.25,193.12 L610.67,193.16 L612.09,193.20 L613.51,193.24 L614.92,193.27 L616.34,193.30 L617.76,193.34 L619.18,193.37 L620.60,193.40 L622.02,193.43 L623.44,193.46 L624.86,193.48 L626.28,193.51 L627.70,193.54 L629.12,193.56 L630.54,193.59 L631.95,193.61 L633.37,193.63 L634.79,193.66 L636.21,193.68 L637.63,193.70 L639.05,193.72 L640.47,193.74 L641.89,193.75 L643.31,193.77 L644.73,193.79 L646.15,193.81 L647.57,193.82 L648.99,193.84 L650.40,193.85 L651.82,193.87 L653.24,193.88 L654.66,193.89 L656.08,193.91 L657.50,193.92 L658.92,193.93 L660.34,193.94 L661.76,193.95 L663.18,193.96 L664.60,193.97 L666.01,193.98 L667.43,193.99 L668.85,194.00 L670.27,194.01 L671.69,194.02 L673.11,194.03 L674.53,194.04 L675.95,194.04 L677.37,194.05 L678.79,194.06 L680.21,194.06 L681.63,194.07 L683.05,194.08 L684.46,194.08 L685.88,194.09 L687.30,194.09 L688.72,194.10 L690.14,194.10 L691.56,194.11 L692.98,194.11 L694.40,194.12 L695.82,194.12 L697.24,194.12 L698.66,194.13 L700.08,194.13 L701.49,194.14 L702.91,194.14 L704.33,194.14 L705.75,194.14 L707.17,194.15 L708.59,194.15 L710.01,194.15 L711.43,194.16 L712.85,194.16 L714.27,194.16 L715.69,194.16 L717.10,194.16 L718.52,194.17 L719.94,194.17 L721.36,194.17 L722.78,194.17 L724.20,194.17 L725.62,194.17 L727.04,194.18 L728.46,194.18 L729.88,194.18 L731.30,194.18 L732.72,194.18 L734.13,194.18 L735.55,194.18 L736.97,194.18 L738.39,194.18 L739.81,194.19 L741.23,194.19 L742.65,194.19 L744.07,194.19 L745.49,194.19 L746.91,194.19 L748.33,194.19 L749.75,194.19 L751.16,194.19 L752.58,194.19 L754.00,194.19 L755.42,194.19 L756.84,194.19 L758.26,194.19 L759.68,194.19 L761.10,194.19 L762.52,194.19 L763.94,194.20 L765.36,194.20 L766.78,194.20 L768.20,194.20 L769.61,194.20 L771.03,194.20 L772.45,194.20 L773.87,194.20 L775.29,194.20 L776.71,194.20 L778.13,194.20 L779.55,194.20 L780.97,194.20 L782.39,194.20 L783.81,194.20 L785.23,194.20 L786.64,194.20 L788.06,194.20 L789.48,194.20 L790.90,194.20 L792.32,194.20 L793.74,194.20 L795.16,194.20 L796.58,194.20 L798.00,194.20 L799.42,194.20 L800.84,194.20 L802.25,194.20 L803.67,194.20 L805.09,194.20 L806.51,194.20 L807.93,194.20 L809.35,194.20 L810.77,194.20 L812.19,194.20 L813.61,194.20 L815.03,194.20 L816.45,194.20 L817.87,194.20 L819.28,194.20 L820.70,194.20 L822.12,194.20 L823.54,194.20 L824.96,194.20 L826.38,194.20 L827.80,194.20 L829.22,194.20 L830.64,194.20 L832.06,194.20 L833.48,194.20 L834.90,194.20 L836.32,194.20 L837.73,194.20 L839.15,194.20 L840.57,194.20 L841.99,194.20 L843.41,194.20 L844.83,194.20 L846.25,194.20 L847.67,194.20 L849.09,194.20 L850.51,194.20 L851.93,194.20 L853.35,194.20 L854.76,194.20 L856.18,194.20 L857.60,194.20 L859.02,194.20 L860.44,194.20 L861.86,194.20 L863.28,194.20 L864.70,194.20 L866.12,194.20 L867.54,194.20 L868.96,194.20 L870.38,194.20 L871.79,194.20 L873.21,194.20 L874.63,194.20 L876.05,194.20 L877.47,194.20 L878.89,194.20 L880.31,194.20 L881.73,194.20 L883.15,194.20 L884.57,194.20 L885.99,194.20 L887.40,194.20 L888.82,194.20 L890.24,194.20 L891.66,194.20 L893.08,194.20 L894.50,194.20 L895.92,194.20 L897.34,194.20 L898.76,194.20 L900.18,194.20 L901.60,194.20 L903.02,194.20 L904.43,194.20 L905.85,194.20 L907.27,194.20 L908.69,194.20 L910.11,194.20 L911.53,194.20 L912.95,194.20 L914.37,194.20 L915.79,194.20 L917.21,194.20 L918.63,194.20 L920.05,194.20 L921.47,194.20 L922.88,194.20 L924.30,194.20 L925.72,194.20 L927.14,194.20 L928.56,194.20 L929.98,194.20 L931.40,194.20 L932.82,194.20 L934.24,194.20 L935.66,194.20 L937.08,194.20 L938.50,194.20 L939.91,194.20 L941.33,194.20 L942.75,194.20 L944.17,194.20 L945.59,194.20 L947.01,194.20 L948.43,194.20 L949.85,194.20 L951.27,194.20 L952.69,194.20 L954.11,194.20 L955.52,194.20 L956.94,194.20 L958.36,194.20 L959.78,194.20 L961.20,194.20 L962.62,194.20 L964.04,194.20 L965.46,194.20 L966.88,194.20 L968.30,194.20 L969.72,194.20 L971.14,194.20 L972.55,194.20 L973.97,194.20 L975.39,194.20 L976.81,194.20 L978.23,194.20 L979.65,194.20 L981.07,194.20 L982.49,194.20 L983.91,194.20 L985.33,194.20 L986.75,194.20 L988.17,194.20 L989.59,194.20 L991.00,194.20 L992.42,194.20 L993.84,194.20 L995.26,194.20 L996.68,194.20 L998.10,194.20" stroke="#d6272b" stroke-dasharray="39.08 9.77 6.11 9.77"/>
</g>
<g clip-path="url(#cb)" fill="none" stroke-width="6.107" stroke-linejoin="round">
<path d="M146.60,259.97 L148.02,260.00 L149.44,260.08 L150.86,260.22 L152.28,260.41 L153.70,260.65 L155.11,260.95 L156.53,261.30 L157.95,261.71 L159.37,262.16 L160.79,262.67 L162.21,263.24 L163.63,263.85 L165.05,264.52 L166.47,265.24 L167.89,266.01 L169.31,266.82 L170.73,267.69 L172.14,268.61 L173.56,269.57 L174.98,270.58 L176.40,271.64 L177.82,272.75 L179.24,273.90 L180.66,275.09 L182.08,276.33 L183.50,277.61 L184.92,278.93 L186.34,280.29 L187.76,281.69 L189.18,283.14 L190.59,284.61 L192.01,286.13 L193.43,287.68 L194.85,289.26 L196.27,290.88 L197.69,292.53 L199.11,294.22 L200.53,295.93 L201.95,297.67 L203.37,299.44 L204.79,301.23 L206.20,303.05 L207.62,304.89 L209.04,306.76 L210.46,308.65 L211.88,310.55 L213.30,312.48 L214.72,314.42 L216.14,316.38 L217.56,318.35 L218.98,320.34 L220.40,322.34 L221.82,324.34 L223.23,326.36 L224.65,328.39 L226.07,330.42 L227.49,332.46 L228.91,334.50 L230.33,336.54 L231.75,338.59 L233.17,340.63 L234.59,342.68 L236.01,344.72 L237.43,346.76 L238.85,348.79 L240.26,350.81 L241.68,352.83 L243.10,354.84 L244.52,356.83 L245.94,358.82 L247.36,360.79 L248.78,362.75 L250.20,364.70 L251.62,366.62 L253.04,368.53 L254.46,370.42 L255.88,372.30 L257.29,374.15 L258.71,375.98 L260.13,377.78 L261.55,379.56 L262.97,381.32 L264.39,383.05 L265.81,384.76 L267.23,386.43 L268.65,388.08 L270.07,389.70 L271.49,391.29 L272.91,392.85 L274.32,394.38 L275.74,395.87 L277.16,397.34 L278.58,398.76 L280.00,400.16 L281.42,401.52 L282.84,402.84 L284.26,404.13 L285.68,405.38 L287.10,406.60 L288.52,407.77 L289.94,408.91 L291.36,410.02 L292.77,411.08 L294.19,412.11 L295.61,413.09 L297.03,414.04 L298.45,414.95 L299.87,415.82 L301.29,416.65 L302.71,417.44 L304.13,418.19 L305.55,418.90 L306.97,419.57 L308.38,420.21 L309.80,420.80 L311.22,421.36 L312.64,421.87 L314.06,422.35 L315.48,422.79 L316.90,423.19 L318.32,423.56 L319.74,423.88 L321.16,424.17 L322.58,424.42 L324.00,424.64 L325.41,424.82 L326.83,424.96 L328.25,425.07 L329.67,425.15 L331.09,425.19 L332.51,425.20 L333.93,425.18 L335.35,425.12 L336.77,425.03 L338.19,424.92 L339.61,424.77 L341.03,424.59 L342.44,424.39 L343.86,424.16 L345.28,423.90 L346.70,423.62 L348.12,423.31 L349.54,422.97 L350.96,422.62 L352.38,422.24 L353.80,421.84 L355.22,421.42 L356.64,420.97 L358.06,420.51 L359.47,420.04 L360.89,419.54 L362.31,419.03 L363.73,418.50 L365.15,417.96 L366.57,417.41 L367.99,416.85 L369.41,416.27 L370.83,415.68 L372.25,415.09 L373.67,414.48 L375.09,413.87 L376.50,413.25 L377.92,412.63 L379.34,412.00 L380.76,411.37 L382.18,410.73 L383.60,410.10 L385.02,409.46 L386.44,408.82 L387.86,408.19 L389.28,407.55 L390.70,406.92 L392.12,406.30 L393.53,405.68 L394.95,405.06 L396.37,404.45 L397.79,403.85 L399.21,403.25 L400.63,402.67 L402.05,402.09 L403.47,401.52 L404.89,400.97 L406.31,400.43 L407.73,399.90 L409.15,399.38 L410.56,398.87 L411.98,398.38 L413.40,397.91 L414.82,397.45 L416.24,397.01 L417.66,396.58 L419.08,396.17 L420.50,395.78 L421.92,395.41 L423.34,395.06 L424.76,394.72 L426.18,394.40 L427.60,394.11 L429.01,393.83 L430.43,393.57 L431.85,393.34 L433.27,393.12 L434.69,392.93 L436.11,392.76 L437.53,392.61 L438.95,392.48 L440.37,392.37 L441.79,392.28 L443.21,392.22 L444.62,392.18 L446.04,392.16 L447.46,392.16 L448.88,392.18 L450.30,392.23 L451.72,392.29 L453.14,392.38 L454.56,392.49 L455.98,392.62 L457.40,392.77 L458.82,392.94 L460.24,393.13 L461.65,393.34 L463.07,393.57 L464.49,393.82 L465.91,394.09 L467.33,394.38 L468.75,394.68 L470.17,395.01 L471.59,395.35 L473.01,395.71 L474.43,396.08 L475.85,396.47 L477.27,396.88 L478.68,397.30 L480.10,397.73 L481.52,398.18 L482.94,398.64 L484.36,399.12 L485.78,399.60 L487.20,400.10 L488.62,400.61 L490.04,401.13 L491.46,401.65 L492.88,402.19 L494.30,402.73 L495.71,403.28 L497.13,403.84 L498.55,404.41 L499.97,404.97 L501.39,405.55 L502.81,406.12 L504.23,406.70 L505.65,407.29 L507.07,407.87 L508.49,408.45 L509.91,409.04 L511.33,409.62 L512.75,410.20 L514.16,410.78 L515.58,411.36 L517.00,411.94 L518.42,412.51 L519.84,413.07 L521.26,413.63 L522.68,414.18 L524.10,414.73 L525.52,415.27 L526.94,415.80 L528.36,416.32 L529.77,416.83 L531.19,417.33 L532.61,417.82 L534.03,418.30 L535.45,418.77 L536.87,419.22 L538.29,419.66 L539.71,420.09 L541.13,420.50 L542.55,420.90 L543.97,421.28 L545.39,421.65 L546.80,422.00 L548.22,422.34 L549.64,422.66 L551.06,422.96 L552.48,423.24 L553.90,423.51 L555.32,423.75 L556.74,423.98 L558.16,424.19 L559.58,424.38 L561.00,424.55 L562.42,424.70 L563.84,424.83 L565.25,424.95 L566.67,425.04 L568.09,425.11 L569.51,425.16 L570.93,425.19 L572.35,425.20 L573.77,425.19 L575.19,425.16 L576.61,425.11 L578.03,425.04 L579.45,424.95 L580.87,424.83 L582.28,424.70 L583.70,424.55 L585.12,424.38 L586.54,424.19 L587.96,423.98 L589.38,423.75 L590.80,423.51 L592.22,423.24 L593.64,422.96 L595.06,422.66 L596.48,422.34 L597.89,422.00 L599.31,421.65 L600.73,421.28 L602.15,420.90 L603.57,420.50 L604.99,420.09 L606.41,419.66 L607.83,419.22 L609.25,418.77 L610.67,418.30 L612.09,417.82 L613.51,417.33 L614.92,416.83 L616.34,416.32 L617.76,415.80 L619.18,415.27 L620.60,414.73 L622.02,414.18 L623.44,413.63 L624.86,413.07 L626.28,412.51 L627.70,411.94 L629.12,411.36 L630.54,410.78 L631.95,410.20 L633.37,409.62 L634.79,409.04 L636.21,408.45 L637.63,407.87 L639.05,407.29 L640.47,406.70 L641.89,406.12 L643.31,405.55 L644.73,404.97 L646.15,404.41 L647.57,403.84 L648.99,403.28 L650.40,402.73 L651.82,402.19 L653.24,401.65 L654.66,401.13 L656.08,400.61 L657.50,400.10 L658.92,399.60 L660.34,399.12 L661.76,398.64 L663.18,398.18 L664.60,397.73 L666.01,397.30 L667.43,396.88 L668.85,396.47 L670.27,396.08 L671.69,395.71 L673.11,395.35 L674.53,395.01 L675.95,394.68 L677.37,394.38 L678.79,394.09 L680.21,393.82 L681.63,393.57 L683.05,393.34 L684.46,393.13 L685.88,392.94 L687.30,392.77 L688.72,392.62 L690.14,392.49 L691.56,392.38 L692.98,392.29 L694.40,392.23 L695.82,392.18 L697.24,392.16 L698.66,392.16 L700.08,392.18 L701.49,392.22 L702.91,392.28 L704.33,392.37 L705.75,392.48 L707.17,392.61 L708.59,392.76 L710.01,392.93 L711.43,393.12 L712.85,393.34 L714.27,393.57 L715.69,393.83 L717.10,394.11 L718.52,394.40 L719.94,394.72 L721.36,395.06 L722.78,395.41 L724.20,395.78 L725.62,396.17 L727.04,396.58 L728.46,397.01 L729.88,397.45 L731.30,397.91 L732.72,398.38 L734.13,398.87 L735.55,399.38 L736.97,399.90 L738.39,400.43 L739.81,400.97 L741.23,401.52 L742.65,402.09 L744.07,402.67 L745.49,403.25 L746.91,403.85 L748.33,404.45 L749.75,405.06 L751.16,405.68 L752.58,406.30 L754.00,406.92 L755.42,407.55 L756.84,408.19 L758.26,408.82 L759.68,409.46 L761.10,410.10 L762.52,410.73 L763.94,411.37 L765.36,412.00 L766.78,412.63 L768.20,413.25 L769.61,413.87 L771.03,414.48 L772.45,415.09 L773.87,415.68 L775.29,416.27 L776.71,416.85 L778.13,417.41 L779.55,417.96 L780.97,418.50 L782.39,419.03 L783.81,419.54 L785.23,420.04 L786.64,420.51 L788.06,420.97 L789.48,421.42 L790.90,421.84 L792.32,422.24 L793.74,422.62 L795.16,422.97 L796.58,423.31 L798.00,423.62 L799.42,423.90 L800.84,424.16 L802.25,424.39 L803.67,424.59 L805.09,424.77 L806.51,424.92 L807.93,425.03 L809.35,425.12 L810.77,425.18 L812.19,425.20 L813.61,425.19 L815.03,425.15 L816.45,425.07 L817.87,424.96 L819.28,424.82 L820.70,424.64 L822.12,424.42 L823.54,424.17 L824.96,423.88 L826.38,423.56 L827.80,423.19 L829.22,422.79 L830.64,422.35 L832.06,421.87 L833.48,421.36 L834.90,420.80 L836.32,420.21 L837.73,419.57 L839.15,418.90 L840.57,418.19 L841.99,417.44 L843.41,416.65 L844.83,415.82 L846.25,414.95 L847.67,414.04 L849.09,413.09 L850.51,412.11 L851.93,411.08 L853.35,410.02 L854.76,408.91 L856.18,407.77 L857.60,406.60 L859.02,405.38 L860.44,404.13 L861.86,402.84 L863.28,401.52 L864.70,400.16 L866.12,398.76 L867.54,397.34 L868.96,395.87 L870.38,394.38 L871.79,392.85 L873.21,391.29 L874.63,389.70 L876.05,388.08 L877.47,386.43 L878.89,384.76 L880.31,383.05 L881.73,381.32 L883.15,379.56 L884.57,377.78 L885.99,375.98 L887.40,374.15 L888.82,372.30 L890.24,370.42 L891.66,368.53 L893.08,366.62 L894.50,364.70 L895.92,362.75 L897.34,360.79 L898.76,358.82 L900.18,356.83 L901.60,354.84 L903.02,352.83 L904.43,350.81 L905.85,348.79 L907.27,346.76 L908.69,344.72 L910.11,342.68 L911.53,340.63 L912.95,338.59 L914.37,336.54 L915.79,334.50 L917.21,332.46 L918.63,330.42 L920.05,328.39 L921.47,326.36 L922.88,324.34 L924.30,322.34 L925.72,320.34 L927.14,318.35 L928.56,316.38 L929.98,314.42 L931.40,312.48 L932.82,310.55 L934.24,308.65 L935.66,306.76 L937.08,304.89 L938.50,303.05 L939.91,301.23 L941.33,299.44 L942.75,297.67 L944.17,295.93 L945.59,294.22 L947.01,292.53 L948.43,290.88 L949.85,289.26 L951.27,287.68 L952.69,286.13 L954.11,284.61 L955.52,283.14 L956.94,281.69 L958.36,280.29 L959.78,278.93 L961.20,277.61 L962.62,276.33 L964.04,275.09 L965.46,273.90 L966.88,272.75 L968.30,271.64 L969.72,270.58 L971.14,269.57 L972.55,268.61 L973.97,267.69 L975.39,266.82 L976.81,266.01 L978.23,265.24 L979.65,264.52 L981.07,263.85 L982.49,263.24 L983.91,262.67 L985.33,262.16 L986.75,261.71 L988.17,261.30 L989.59,260.95 L991.00,260.65 L992.42,260.41 L993.84,260.22 L995.26,260.08 L996.68,260.00 L998.10,259.97" stroke="#3f7fb9" stroke-linecap="square"/>
<path d="M146.60,425.20 L148.02,425.19 L149.44,425.15 L150.86,425.08 L152.28,424.98 L153.70,424.86 L155.11,424.71 L156.53,424.54 L157.95,424.33 L159.37,424.11 L160.79,423.85 L162.21,423.57 L163.63,423.26 L165.05,422.93 L166.47,422.58 L167.89,422.20 L169.31,421.79 L170.73,421.36 L172.14,420.91 L173.56,420.43 L174.98,419.93 L176.40,419.41 L177.82,418.87 L179.24,418.30 L180.66,417.72 L182.08,417.11 L183.50,416.49 L184.92,415.84 L186.34,415.18 L187.76,414.50 L189.18,413.80 L190.59,413.09 L192.01,412.36 L193.43,411.61 L194.85,410.85 L196.27,410.08 L197.69,409.29 L199.11,408.49 L200.53,407.68 L201.95,406.86 L203.37,406.03 L204.79,405.18 L206.20,404.33 L207.62,403.48 L209.04,402.61 L210.46,401.74 L211.88,400.87 L213.30,399.98 L214.72,399.10 L216.14,398.21 L217.56,397.32 L218.98,396.43 L220.40,395.54 L221.82,394.65 L223.23,393.76 L224.65,392.87 L226.07,391.99 L227.49,391.11 L228.91,390.23 L230.33,389.36 L231.75,388.49 L233.17,387.63 L234.59,386.78 L236.01,385.94 L237.43,385.11 L238.85,384.28 L240.26,383.47 L241.68,382.67 L243.10,381.88 L244.52,381.10 L245.94,380.34 L247.36,379.59 L248.78,378.86 L250.20,378.14 L251.62,377.44 L253.04,376.75 L254.46,376.09 L255.88,375.44 L257.29,374.81 L258.71,374.20 L260.13,373.61 L261.55,373.04 L262.97,372.49 L264.39,371.96 L265.81,371.45 L267.23,370.97 L268.65,370.51 L270.07,370.07 L271.49,369.65 L272.91,369.26 L274.32,368.90 L275.74,368.56 L277.16,368.24 L278.58,367.95 L280.00,367.68 L281.42,367.44 L282.84,367.23 L284.26,367.04 L285.68,366.87 L287.10,366.74 L288.52,366.63 L289.94,366.54 L291.36,366.49 L292.77,366.46 L294.19,366.45 L295.61,366.48 L297.03,366.53 L298.45,366.60 L299.87,366.70 L301.29,366.83 L302.71,366.99 L304.13,367.17 L305.55,367.37 L306.97,367.61 L308.38,367.86 L309.80,368.15 L311.22,368.45 L312.64,368.78 L314.06,369.14 L315.48,369.52 L316.90,369.92 L318.32,370.35 L319.74,370.80 L321.16,371.27 L322.58,371.76 L324.00,372.28 L325.41,372.81 L326.83,373.36 L328.25,373.94 L329.67,374.53 L331.09,375.15 L332.51,375.78 L333.93,376.43 L335.35,377.09 L336.77,377.77 L338.19,378.47 L339.61,379.18 L341.03,379.91 L342.44,380.65 L343.86,381.40 L345.28,382.17 L346.70,382.95 L348.12,383.73 L349.54,384.53 L350.96,385.34 L352.38,386.16 L353.80,386.98 L355.22,387.82 L356.64,388.65 L358.06,389.50 L359.47,390.35 L360.89,391.20 L362.31,392.06 L363.73,392.92 L365.15,393.78 L366.57,394.64 L367.99,395.51 L369.41,396.37 L370.83,397.23 L372.25,398.09 L373.67,398.95 L375.09,399.80 L376.50,400.65 L377.92,401.50 L379.34,402.34 L380.76,403.17 L382.18,404.00 L383.60,404.82 L385.02,405.63 L386.44,406.43 L387.86,407.22 L389.28,408.00 L390.70,408.77 L392.12,409.53 L393.53,410.28 L394.95,411.01 L396.37,411.73 L397.79,412.44 L399.21,413.13 L400.63,413.81 L402.05,414.47 L403.47,415.11 L404.89,415.74 L406.31,416.35 L407.73,416.95 L409.15,417.52 L410.56,418.08 L411.98,418.62 L413.40,419.14 L414.82,419.63 L416.24,420.11 L417.66,420.57 L419.08,421.01 L420.50,421.43 L421.92,421.82 L423.34,422.20 L424.76,422.55 L426.18,422.88 L427.60,423.19 L429.01,423.48 L430.43,423.75 L431.85,423.99 L433.27,424.21 L434.69,424.41 L436.11,424.59 L437.53,424.74 L438.95,424.87 L440.37,424.98 L441.79,425.07 L443.21,425.13 L444.62,425.18 L446.04,425.20 L447.46,425.20 L448.88,425.17 L450.30,425.13 L451.72,425.06 L453.14,424.98 L454.56,424.87 L455.98,424.74 L457.40,424.60 L458.82,424.43 L460.24,424.24 L461.65,424.03 L463.07,423.81 L464.49,423.57 L465.91,423.30 L467.33,423.02 L468.75,422.73 L470.17,422.42 L471.59,422.09 L473.01,421.74 L474.43,421.38 L475.85,421.01 L477.27,420.62 L478.68,420.22 L480.10,419.80 L481.52,419.37 L482.94,418.93 L484.36,418.48 L485.78,418.02 L487.20,417.55 L488.62,417.07 L490.04,416.58 L491.46,416.08 L492.88,415.57 L494.30,415.06 L495.71,414.54 L497.13,414.02 L498.55,413.49 L499.97,412.95 L501.39,412.42 L502.81,411.87 L504.23,411.33 L505.65,410.79 L507.07,410.24 L508.49,409.70 L509.91,409.15 L511.33,408.61 L512.75,408.06 L514.16,407.52 L515.58,406.99 L517.00,406.45 L518.42,405.92 L519.84,405.40 L521.26,404.88 L522.68,404.37 L524.10,403.86 L525.52,403.37 L526.94,402.88 L528.36,402.39 L529.77,401.92 L531.19,401.46 L532.61,401.01 L534.03,400.56 L535.45,400.13 L536.87,399.71 L538.29,399.31 L539.71,398.91 L541.13,398.53 L542.55,398.17 L543.97,397.81 L545.39,397.48 L546.80,397.15 L548.22,396.85 L549.64,396.55 L551.06,396.28 L552.48,396.02 L553.90,395.77 L555.32,395.55 L556.74,395.34 L558.16,395.15 L559.58,394.97 L561.00,394.81 L562.42,394.68 L563.84,394.56 L565.25,394.45 L566.67,394.37 L568.09,394.30 L569.51,394.26 L570.93,394.23 L572.35,394.22 L573.77,394.23 L575.19,394.26 L576.61,394.30 L578.03,394.37 L579.45,394.45 L580.87,394.56 L582.28,394.68 L583.70,394.81 L585.12,394.97 L586.54,395.15 L587.96,395.34 L589.38,395.55 L590.80,395.77 L592.22,396.02 L593.64,396.28 L595.06,396.55 L596.48,396.85 L597.89,397.15 L599.31,397.48 L600.73,397.81 L602.15,398.17 L603.57,398.53 L604.99,398.91 L606.41,399.31 L607.83,399.71 L609.25,400.13 L610.67,400.56 L612.09,401.01 L613.51,401.46 L614.92,401.92 L616.34,402.39 L617.76,402.88 L619.18,403.37 L620.60,403.86 L622.02,404.37 L623.44,404.88 L624.86,405.40 L626.28,405.92 L627.70,406.45 L629.12,406.99 L630.54,407.52 L631.95,408.06 L633.37,408.61 L634.79,409.15 L636.21,409.70 L637.63,410.24 L639.05,410.79 L640.47,411.33 L641.89,411.87 L643.31,412.42 L644.73,412.95 L646.15,413.49 L647.57,414.02 L648.99,414.54 L650.40,415.06 L651.82,415.57 L653.24,416.08 L654.66,416.58 L656.08,417.07 L657.50,417.55 L658.92,418.02 L660.34,418.48 L661.76,418.93 L663.18,419.37 L664.60,419.80 L666.01,420.22 L667.43,420.62 L668.85,421.01 L670.27,421.38 L671.69,421.74 L673.11,422.09 L674.53,422.42 L675.95,422.73 L677.37,423.02 L678.79,423.30 L680.21,423.57 L681.63,423.81 L683.05,424.03 L684.46,424.24 L685.88,424.43 L687.30,424.60 L688.72,424.74 L690.14,424.87 L691.56,424.98 L692.98,425.06 L694.40,425.13 L695.82,425.17 L697.24,425.20 L698.66,425.20 L700.08,425.18 L701.49,425.13 L702.91,425.07 L704.33,424.98 L705.75,424.87 L707.17,424.74 L708.59,424.59 L710.01,424.41 L711.43,424.21 L712.85,423.99 L714.27,423.75 L715.69,423.48 L717.10,423.19 L718.52,422.88 L719.94,422.55 L721.36,422.20 L722.78,421.82 L724.20,421.43 L725.62,421.01 L727.04,420.57 L728.46,420.11 L729.88,419.63 L731.30,419.14 L732.72,418.62 L734.13,418.08 L735.55,417.52 L736.97,416.95 L738.39,416.35 L739.81,415.74 L741.23,415.11 L742.65,414.47 L744.07,413.81 L745.49,413.13 L746.91,412.44 L748.33,411.73 L749.75,411.01 L751.16,410.28 L752.58,409.53 L754.00,408.77 L755.42,408.00 L756.84,407.22 L758.26,406.43 L759.68,405.63 L761.10,404.82 L762.52,404.00 L763.94,403.17 L765.36,402.34 L766.78,401.50 L768.20,400.65 L769.61,399.80 L771.03,398.95 L772.45,398.09 L773.87,397.23 L775.29,396.37 L776.71,395.51 L778.13,394.64 L779.55,393.78 L780.97,392.92 L782.39,392.06 L783.81,391.20 L785.23,390.35 L786.64,389.50 L788.06,388.65 L789.48,387.82 L790.90,386.98 L792.32,386.16 L793.74,385.34 L795.16,384.53 L796.58,383.73 L798.00,382.95 L799.42,382.17 L800.84,381.40 L802.25,380.65 L803.67,379.91 L805.09,379.18 L806.51,378.47 L807.93,377.77 L809.35,377.09 L810.77,376.43 L812.19,375.78 L813.61,375.15 L815.03,374.53 L816.45,373.94 L817.87,373.36 L819.28,372.81 L820.70,372.28 L822.12,371.76 L823.54,371.27 L824.96,370.80 L826.38,370.35 L827.80,369.92 L829.22,369.52 L830.64,369.14 L832.06,368.78 L833.48,368.45 L834.90,368.15 L836.32,367.86 L837.73,367.61 L839.15,367.37 L840.57,367.17 L841.99,366.99 L843.41,366.83 L844.83,366.70 L846.25,366.60 L847.67,366.53 L849.09,366.48 L850.51,366.45 L851.93,366.46 L853.35,366.49 L854.76,366.54 L856.18,366.63 L857.60,366.74 L859.02,366.87 L860.44,367.04 L861.86,367.23 L863.28,367.44 L864.70,367.68 L866.12,367.95 L867.54,368.24 L868.96,368.56 L870.38,368.90 L871.79,369.26 L873.21,369.65 L874.63,370.07 L876.05,370.51 L877.47,370.97 L878.89,371.45 L880.31,371.96 L881.73,372.49 L883.15,373.04 L884.57,373.61 L885.99,374.20 L887.40,374.81 L888.82,375.44 L890.24,376.09 L891.66,376.75 L893.08,377.44 L894.50,378.14 L895.92,378.86 L897.34,379.59 L898.76,380.34 L900.18,381.10 L901.60,381.88 L903.02,382.67 L904.43,383.47 L905.85,384.28 L907.27,385.11 L908.69,385.94 L910.11,386.78 L911.53,387.63 L912.95,388.49 L914.37,389.36 L915.79,390.23 L917.21,391.11 L918.63,391.99 L920.05,392.87 L921.47,393.76 L922.88,394.65 L924.30,395.54 L925.72,396.43 L927.14,397.32 L928.56,398.21 L929.98,399.10 L931.40,399.98 L932.82,400.87 L934.24,401.74 L935.66,402.61 L937.08,403.48 L938.50,404.33 L939.91,405.18 L941.33,406.03 L942.75,406.86 L944.17,407.68 L945.59,408.49 L947.01,409.29 L948.43,410.08 L949.85,410.85 L951.27,411.61 L952.69,412.36 L954.11,413.09 L955.52,413.80 L956.94,414.50 L958.36,415.18 L959.78,415.84 L961.20,416.49 L962.62,417.11 L964.04,417.72 L965.46,418.30 L966.88,418.87 L968.30,419.41 L969.72,419.93 L971.14,420.43 L972.55,420.91 L973.97,421.36 L975.39,421.79 L976.81,422.20 L978.23,422.58 L979.65,422.93 L981.07,423.26 L982.49,423.57 L983.91,423.85 L985.33,424.11 L986.75,424.33 L988.17,424.54 L989.59,424.71 L991.00,424.86 L992.42,424.98 L993.84,425.08 L995.26,425.15 L996.68,425.19 L998.10,425.20" stroke="#ef771a" stroke-dasharray="6.11 10.08"/>
<path d="M146.60,425.20 L148.02,425.20 L149.44,425.20 L150.86,425.20 L152.28,425.20 L153.70,425.20 L155.11,425.20 L156.53,425.20 L157.95,425.20 L159.37,425.20 L160.79,425.20 L162.21,425.20 L163.63,425.20 L165.05,425.19 L166.47,425.19 L167.89,425.19 L169.31,425.18 L170.73,425.18 L172.14,425.18 L173.56,425.17 L174.98,425.16 L176.40,425.16 L177.82,425.15 L179.24,425.14 L180.66,425.12 L182.08,425.11 L183.50,425.10 L184.92,425.08 L186.34,425.06 L187.76,425.04 L189.18,425.02 L190.59,424.99 L192.01,424.97 L193.43,424.94 L194.85,424.90 L196.27,424.87 L197.69,424.83 L199.11,424.79 L200.53,424.75 L201.95,424.70 L203.37,424.65 L204.79,424.59 L206.20,424.53 L207.62,424.47 L209.04,424.40 L210.46,424.33 L211.88,424.25 L213.30,424.17 L214.72,424.09 L216.14,424.00 L217.56,423.90 L218.98,423.80 L220.40,423.70 L221.82,423.59 L223.23,423.47 L224.65,423.35 L226.07,423.22 L227.49,423.08 L228.91,422.94 L230.33,422.80 L231.75,422.64 L233.17,422.49 L234.59,422.32 L236.01,422.15 L237.43,421.97 L238.85,421.78 L240.26,421.59 L241.68,421.39 L243.10,421.18 L244.52,420.97 L245.94,420.75 L247.36,420.52 L248.78,420.28 L250.20,420.04 L251.62,419.79 L253.04,419.53 L254.46,419.26 L255.88,418.99 L257.29,418.71 L258.71,418.42 L260.13,418.12 L261.55,417.82 L262.97,417.51 L264.39,417.19 L265.81,416.86 L267.23,416.53 L268.65,416.19 L270.07,415.84 L271.49,415.49 L272.91,415.12 L274.32,414.75 L275.74,414.37 L277.16,413.99 L278.58,413.60 L280.00,413.20 L281.42,412.80 L282.84,412.39 L284.26,411.97 L285.68,411.54 L287.10,411.11 L288.52,410.68 L289.94,410.24 L291.36,409.79 L292.77,409.34 L294.19,408.88 L295.61,408.41 L297.03,407.95 L298.45,407.47 L299.87,406.99 L301.29,406.51 L302.71,406.03 L304.13,405.54 L305.55,405.04 L306.97,404.55 L308.38,404.05 L309.80,403.54 L311.22,403.04 L312.64,402.53 L314.06,402.02 L315.48,401.51 L316.90,401.00 L318.32,400.48 L319.74,399.97 L321.16,399.45 L322.58,398.94 L324.00,398.42 L325.41,397.90 L326.83,397.39 L328.25,396.88 L329.67,396.36 L331.09,395.85 L332.51,395.34 L333.93,394.84 L335.35,394.33 L336.77,393.83 L338.19,393.33 L339.61,392.84 L341.03,392.35 L342.44,391.86 L343.86,391.38 L345.28,390.90 L346.70,390.43 L348.12,389.96 L349.54,389.50 L350.96,389.05 L352.38,388.60 L353.80,388.16 L355.22,387.73 L356.64,387.30 L358.06,386.88 L359.47,386.47 L360.89,386.07 L362.31,385.68 L363.73,385.30 L365.15,384.92 L366.57,384.56 L367.99,384.21 L369.41,383.86 L370.83,383.53 L372.25,383.21 L373.67,382.89 L375.09,382.59 L376.50,382.31 L377.92,382.03 L379.34,381.76 L380.76,381.51 L382.18,381.27 L383.60,381.05 L385.02,380.83 L386.44,380.63 L387.86,380.45 L389.28,380.27 L390.70,380.11 L392.12,379.97 L393.53,379.83 L394.95,379.72 L396.37,379.61 L397.79,379.53 L399.21,379.45 L400.63,379.39 L402.05,379.35 L403.47,379.32 L404.89,379.31 L406.31,379.31 L407.73,379.32 L409.15,379.35 L410.56,379.40 L411.98,379.46 L413.40,379.54 L414.82,379.63 L416.24,379.74 L417.66,379.86 L419.08,380.00 L420.50,380.15 L421.92,380.32 L423.34,380.50 L424.76,380.70 L426.18,380.91 L427.60,381.14 L429.01,381.38 L430.43,381.63 L431.85,381.90 L433.27,382.19 L434.69,382.49 L436.11,382.80 L437.53,383.13 L438.95,383.47 L440.37,383.82 L441.79,384.19 L443.21,384.56 L444.62,384.96 L446.04,385.36 L447.46,385.78 L448.88,386.20 L450.30,386.64 L451.72,387.09 L453.14,387.55 L454.56,388.03 L455.98,388.51 L457.40,389.00 L458.82,389.50 L460.24,390.01 L461.65,390.53 L463.07,391.06 L464.49,391.60 L465.91,392.15 L467.33,392.70 L468.75,393.26 L470.17,393.82 L471.59,394.40 L473.01,394.98 L474.43,395.56 L475.85,396.15 L477.27,396.74 L478.68,397.34 L480.10,397.94 L481.52,398.55 L482.94,399.16 L484.36,399.77 L485.78,400.38 L487.20,401.00 L488.62,401.61 L490.04,402.23 L491.46,402.85 L492.88,403.46 L494.30,404.08 L495.71,404.69 L497.13,405.31 L498.55,405.92 L499.97,406.53 L501.39,407.13 L502.81,407.74 L504.23,408.34 L505.65,408.93 L507.07,409.52 L508.49,410.11 L509.91,410.69 L511.33,411.26 L512.75,411.83 L514.16,412.39 L515.58,412.94 L517.00,413.49 L518.42,414.02 L519.84,414.55 L521.26,415.07 L522.68,415.58 L524.10,416.08 L525.52,416.58 L526.94,417.06 L528.36,417.53 L529.77,417.99 L531.19,418.43 L532.61,418.87 L534.03,419.29 L535.45,419.70 L536.87,420.10 L538.29,420.49 L539.71,420.86 L541.13,421.21 L542.55,421.56 L543.97,421.89 L545.39,422.20 L546.80,422.50 L548.22,422.79 L549.64,423.06 L551.06,423.32 L552.48,423.56 L553.90,423.78 L555.32,423.99 L556.74,424.18 L558.16,424.36 L559.58,424.52 L561.00,424.66 L562.42,424.79 L563.84,424.89 L565.25,424.99 L566.67,425.06 L568.09,425.12 L569.51,425.17 L570.93,425.19 L572.35,425.20 L573.77,425.19 L575.19,425.17 L576.61,425.12 L578.03,425.06 L579.45,424.99 L580.87,424.89 L582.28,424.79 L583.70,424.66 L585.12,424.52 L586.54,424.36 L587.96,424.18 L589.38,423.99 L590.80,423.78 L592.22,423.56 L593.64,423.32 L595.06,423.06 L596.48,422.79 L597.89,422.50 L599.31,422.20 L600.73,421.89 L602.15,421.56 L603.57,421.21 L604.99,420.86 L606.41,420.49 L607.83,420.10 L609.25,419.70 L610.67,419.29 L612.09,418.87 L613.51,418.43 L614.92,417.99 L616.34,417.53 L617.76,417.06 L619.18,416.58 L620.60,416.08 L622.02,415.58 L623.44,415.07 L624.86,414.55 L626.28,414.02 L627.70,413.49 L629.12,412.94 L630.54,412.39 L631.95,411.83 L633.37,411.26 L634.79,410.69 L636.21,410.11 L637.63,409.52 L639.05,408.93 L640.47,408.34 L641.89,407.74 L643.31,407.13 L644.73,406.53 L646.15,405.92 L647.57,405.31 L648.99,404.69 L650.40,404.08 L651.82,403.46 L653.24,402.85 L654.66,402.23 L656.08,401.61 L657.50,401.00 L658.92,400.38 L660.34,399.77 L661.76,399.16 L663.18,398.55 L664.60,397.94 L666.01,397.34 L667.43,396.74 L668.85,396.15 L670.27,395.56 L671.69,394.98 L673.11,394.40 L674.53,393.82 L675.95,393.26 L677.37,392.70 L678.79,392.15 L680.21,391.60 L681.63,391.06 L683.05,390.53 L684.46,390.01 L685.88,389.50 L687.30,389.00 L688.72,388.51 L690.14,388.03 L691.56,387.55 L692.98,387.09 L694.40,386.64 L695.82,386.20 L697.24,385.78 L698.66,385.36 L700.08,384.96 L701.49,384.56 L702.91,384.19 L704.33,383.82 L705.75,383.47 L707.17,383.13 L708.59,382.80 L710.01,382.49 L711.43,382.19 L712.85,381.90 L714.27,381.63 L715.69,381.38 L717.10,381.14 L718.52,380.91 L719.94,380.70 L721.36,380.50 L722.78,380.32 L724.20,380.15 L725.62,380.00 L727.04,379.86 L728.46,379.74 L729.88,379.63 L731.30,379.54 L732.72,379.46 L734.13,379.40 L735.55,379.35 L736.97,379.32 L738.39,379.31 L739.81,379.31 L741.23,379.32 L742.65,379.35 L744.07,379.39 L745.49,379.45 L746.91,379.53 L748.33,379.61 L749.75,379.72 L751.16,379.83 L752.58,379.97 L754.00,380.11 L755.42,380.27 L756.84,380.45 L758.26,380.63 L759.68,380.83 L761.10,381.05 L762.52,381.27 L763.94,381.51 L765.36,381.76 L766.78,382.03 L768.20,382.31 L769.61,382.59 L771.03,382.89 L772.45,383.21 L773.87,383.53 L775.29,383.86 L776.71,384.21 L778.13,384.56 L779.55,384.92 L780.97,385.30 L782.39,385.68 L783.81,386.07 L785.23,386.47 L786.64,386.88 L788.06,387.30 L789.48,387.73 L790.90,388.16 L792.32,388.60 L793.74,389.05 L795.16,389.50 L796.58,389.96 L798.00,390.43 L799.42,390.90 L800.84,391.38 L802.25,391.86 L803.67,392.35 L805.09,392.84 L806.51,393.33 L807.93,393.83 L809.35,394.33 L810.77,394.84 L812.19,395.34 L813.61,395.85 L815.03,396.36 L816.45,396.88 L817.87,397.39 L819.28,397.90 L820.70,398.42 L822.12,398.94 L823.54,399.45 L824.96,399.97 L826.38,400.48 L827.80,401.00 L829.22,401.51 L830.64,402.02 L832.06,402.53 L833.48,403.04 L834.90,403.54 L836.32,404.05 L837.73,404.55 L839.15,405.04 L840.57,405.54 L841.99,406.03 L843.41,406.51 L844.83,406.99 L846.25,407.47 L847.67,407.95 L849.09,408.41 L850.51,408.88 L851.93,409.34 L853.35,409.79 L854.76,410.24 L856.18,410.68 L857.60,411.11 L859.02,411.54 L860.44,411.97 L861.86,412.39 L863.28,412.80 L864.70,413.20 L866.12,413.60 L867.54,413.99 L868.96,414.37 L870.38,414.75 L871.79,415.12 L873.21,415.49 L874.63,415.84 L876.05,416.19 L877.47,416.53 L878.89,416.86 L880.31,417.19 L881.73,417.51 L883.15,417.82 L884.57,418.12 L885.99,418.42 L887.40,418.71 L888.82,418.99 L890.24,419.26 L891.66,419.53 L893.08,419.79 L894.50,420.04 L895.92,420.28 L897.34,420.52 L898.76,420.75 L900.18,420.97 L901.60,421.18 L903.02,421.39 L904.43,421.59 L905.85,421.78 L907.27,421.97 L908.69,422.15 L910.11,422.32 L911.53,422.49 L912.95,422.64 L914.37,422.80 L915.79,422.94 L917.21,423.08 L918.63,423.22 L920.05,423.35 L921.47,423.47 L922.88,423.59 L924.30,423.70 L925.72,423.80 L927.14,423.90 L928.56,424.00 L929.98,424.09 L931.40,424.17 L932.82,424.25 L934.24,424.33 L935.66,424.40 L937.08,424.47 L938.50,424.53 L939.91,424.59 L941.33,424.65 L942.75,424.70 L944.17,424.75 L945.59,424.79 L947.01,424.83 L948.43,424.87 L949.85,424.90 L951.27,424.94 L952.69,424.97 L954.11,424.99 L955.52,425.02 L956.94,425.04 L958.36,425.06 L959.78,425.08 L961.20,425.10 L962.62,425.11 L964.04,425.12 L965.46,425.14 L966.88,425.15 L968.30,425.16 L969.72,425.16 L971.14,425.17 L972.55,425.18 L973.97,425.18 L975.39,425.18 L976.81,425.19 L978.23,425.19 L979.65,425.19 L981.07,425.20 L982.49,425.20 L983.91,425.20 L985.33,425.20 L986.75,425.20 L988.17,425.20 L989.59,425.20 L991.00,425.20 L992.42,425.20 L993.84,425.20 L995.26,425.20 L996.68,425.20 L998.10,425.20" stroke="#46ac31" stroke-dasharray="22.60 9.77"/>
<path d="M146.60,425.20 L148.02,425.20 L149.44,425.20 L150.86,425.20 L152.28,425.20 L153.70,425.20 L155.11,425.20 L156.53,425.20 L157.95,425.20 L159.37,425.20 L160.79,425.20 L162.21,425.20 L163.63,425.20 L165.05,425.20 L166.47,425.20 L167.89,425.20 L169.31,425.20 L170.73,425.20 L172.14,425.20 L173.56,425.20 L174.98,425.20 L176.40,425.20 L177.82,425.20 L179.24,425.20 L180.66,425.20 L182.08,425.20 L183.50,425.20 L184.92,425.20 L186.34,425.20 L187.76,425.20 L189.18,425.20 L190.59,425.20 L192.01,425.20 L193.43,425.20 L194.85,425.20 L196.27,425.20 L197.69,425.20 L199.11,425.20 L200.53,425.20 L201.95,425.20 L203.37,425.20 L204.79,425.20 L206.20,425.19 L207.62,425.19 L209.04,425.19 L210.46,425.19 L211.88,425.19 L213.30,425.19 L214.72,425.19 L216.14,425.19 L217.56,425.18 L218.98,425.18 L220.40,425.18 L221.82,425.18 L223.23,425.18 L224.65,425.17 L226.07,425.17 L227.49,425.17 L228.91,425.16 L230.33,425.16 L231.75,425.16 L233.17,425.15 L234.59,425.15 L236.01,425.14 L237.43,425.13 L238.85,425.13 L240.26,425.12 L241.68,425.11 L243.10,425.11 L244.52,425.10 L245.94,425.09 L247.36,425.08 L248.78,425.07 L250.20,425.06 L251.62,425.05 L253.04,425.04 L254.46,425.03 L255.88,425.01 L257.29,425.00 L258.71,424.98 L260.13,424.97 L261.55,424.95 L262.97,424.93 L264.39,424.91 L265.81,424.89 L267.23,424.87 L268.65,424.85 L270.07,424.83 L271.49,424.80 L272.91,424.78 L274.32,424.75 L275.74,424.72 L277.16,424.69 L278.58,424.66 L280.00,424.63 L281.42,424.59 L282.84,424.55 L284.26,424.52 L285.68,424.48 L287.10,424.44 L288.52,424.39 L289.94,424.35 L291.36,424.30 L292.77,424.25 L294.19,424.20 L295.61,424.15 L297.03,424.09 L298.45,424.04 L299.87,423.98 L301.29,423.92 L302.71,423.85 L304.13,423.79 L305.55,423.72 L306.97,423.65 L308.38,423.57 L309.80,423.50 L311.22,423.42 L312.64,423.33 L314.06,423.25 L315.48,423.16 L316.90,423.07 L318.32,422.98 L319.74,422.88 L321.16,422.78 L322.58,422.68 L324.00,422.57 L325.41,422.46 L326.83,422.35 L328.25,422.23 L329.67,422.12 L331.09,421.99 L332.51,421.87 L333.93,421.74 L335.35,421.60 L336.77,421.47 L338.19,421.33 L339.61,421.18 L341.03,421.03 L342.44,420.88 L343.86,420.73 L345.28,420.57 L346.70,420.40 L348.12,420.23 L349.54,420.06 L350.96,419.89 L352.38,419.71 L353.80,419.52 L355.22,419.34 L356.64,419.14 L358.06,418.95 L359.47,418.75 L360.89,418.54 L362.31,418.33 L363.73,418.12 L365.15,417.90 L366.57,417.68 L367.99,417.45 L369.41,417.22 L370.83,416.99 L372.25,416.75 L373.67,416.50 L375.09,416.25 L376.50,416.00 L377.92,415.75 L379.34,415.48 L380.76,415.22 L382.18,414.95 L383.60,414.67 L385.02,414.40 L386.44,414.11 L387.86,413.83 L389.28,413.53 L390.70,413.24 L392.12,412.94 L393.53,412.63 L394.95,412.33 L396.37,412.01 L397.79,411.70 L399.21,411.38 L400.63,411.05 L402.05,410.72 L403.47,410.39 L404.89,410.05 L406.31,409.71 L407.73,409.37 L409.15,409.02 L410.56,408.67 L411.98,408.32 L413.40,407.96 L414.82,407.60 L416.24,407.23 L417.66,406.86 L419.08,406.49 L420.50,406.12 L421.92,405.74 L423.34,405.36 L424.76,404.98 L426.18,404.59 L427.60,404.20 L429.01,403.81 L430.43,403.42 L431.85,403.02 L433.27,402.62 L434.69,402.22 L436.11,401.82 L437.53,401.41 L438.95,401.01 L440.37,400.60 L441.79,400.19 L443.21,399.78 L444.62,399.36 L446.04,398.95 L447.46,398.54 L448.88,398.12 L450.30,397.70 L451.72,397.28 L453.14,396.86 L454.56,396.45 L455.98,396.03 L457.40,395.61 L458.82,395.19 L460.24,394.77 L461.65,394.35 L463.07,393.93 L464.49,393.51 L465.91,393.09 L467.33,392.67 L468.75,392.26 L470.17,391.84 L471.59,391.43 L473.01,391.01 L474.43,390.60 L475.85,390.19 L477.27,389.79 L478.68,389.38 L480.10,388.97 L481.52,388.57 L482.94,388.17 L484.36,387.78 L485.78,387.38 L487.20,386.99 L488.62,386.60 L490.04,386.22 L491.46,385.83 L492.88,385.46 L494.30,385.08 L495.71,384.71 L497.13,384.34 L498.55,383.98 L499.97,383.62 L501.39,383.26 L502.81,382.91 L504.23,382.57 L505.65,382.22 L507.07,381.89 L508.49,381.56 L509.91,381.23 L511.33,380.91 L512.75,380.59 L514.16,380.28 L515.58,379.98 L517.00,379.68 L518.42,379.38 L519.84,379.10 L521.26,378.82 L522.68,378.54 L524.10,378.27 L525.52,378.01 L526.94,377.76 L528.36,377.51 L529.77,377.27 L531.19,377.03 L532.61,376.80 L534.03,376.58 L535.45,376.37 L536.87,376.16 L538.29,375.96 L539.71,375.77 L541.13,375.59 L542.55,375.41 L543.97,375.24 L545.39,375.08 L546.80,374.93 L548.22,374.78 L549.64,374.64 L551.06,374.51 L552.48,374.39 L553.90,374.28 L555.32,374.17 L556.74,374.08 L558.16,373.99 L559.58,373.91 L561.00,373.84 L562.42,373.77 L563.84,373.72 L565.25,373.67 L566.67,373.63 L568.09,373.60 L569.51,373.58 L570.93,373.57 L572.35,373.57 L573.77,373.57 L575.19,373.58 L576.61,373.60 L578.03,373.63 L579.45,373.67 L580.87,373.72 L582.28,373.77 L583.70,373.84 L585.12,373.91 L586.54,373.99 L587.96,374.08 L589.38,374.17 L590.80,374.28 L592.22,374.39 L593.64,374.51 L595.06,374.64 L596.48,374.78 L597.89,374.93 L599.31,375.08 L600.73,375.24 L602.15,375.41 L603.57,375.59 L604.99,375.77 L606.41,375.96 L607.83,376.16 L609.25,376.37 L610.67,376.58 L612.09,376.80 L613.51,377.03 L614.92,377.27 L616.34,377.51 L617.76,377.76 L619.18,378.01 L620.60,378.27 L622.02,378.54 L623.44,378.82 L624.86,379.10 L626.28,379.38 L627.70,379.68 L629.12,379.98 L630.54,380.28 L631.95,380.59 L633.37,380.91 L634.79,381.23 L636.21,381.56 L637.63,381.89 L639.05,382.22 L640.47,382.57 L641.89,382.91 L643.31,383.26 L644.73,383.62 L646.15,383.98 L647.57,384.34 L648.99,384.71 L650.40,385.08 L651.82,385.46 L653.24,385.83 L654.66,386.22 L656.08,386.60 L657.50,386.99 L658.92,387.38 L660.34,387.78 L661.76,388.17 L663.18,388.57 L664.60,388.97 L666.01,389.38 L667.43,389.79 L668.85,390.19 L670.27,390.60 L671.69,391.01 L673.11,391.43 L674.53,391.84 L675.95,392.26 L677.37,392.67 L678.79,393.09 L680.21,393.51 L681.63,393.93 L683.05,394.35 L684.46,394.77 L685.88,395.19 L687.30,395.61 L688.72,396.03 L690.14,396.45 L691.56,396.86 L692.98,397.28 L694.40,397.70 L695.82,398.12 L697.24,398.54 L698.66,398.95 L700.08,399.36 L701.49,399.78 L702.91,400.19 L704.33,400.60 L705.75,401.01 L707.17,401.41 L708.59,401.82 L710.01,402.22 L711.43,402.62 L712.85,403.02 L714.27,403.42 L715.69,403.81 L717.10,404.20 L718.52,404.59 L719.94,404.98 L721.36,405.36 L722.78,405.74 L724.20,406.12 L725.62,406.49 L727.04,406.86 L728.46,407.23 L729.88,407.60 L731.30,407.96 L732.72,408.32 L734.13,408.67 L735.55,409.02 L736.97,409.37 L738.39,409.71 L739.81,410.05 L741.23,410.39 L742.65,410.72 L744.07,411.05 L745.49,411.38 L746.91,411.70 L748.33,412.01 L749.75,412.33 L751.16,412.63 L752.58,412.94 L754.00,413.24 L755.42,413.53 L756.84,413.83 L758.26,414.11 L759.68,414.40 L761.10,414.67 L762.52,414.95 L763.94,415.22 L765.36,415.48 L766.78,415.75 L768.20,416.00 L769.61,416.25 L771.03,416.50 L772.45,416.75 L773.87,416.99 L775.29,417.22 L776.71,417.45 L778.13,417.68 L779.55,417.90 L780.97,418.12 L782.39,418.33 L783.81,418.54 L785.23,418.75 L786.64,418.95 L788.06,419.14 L789.48,419.34 L790.90,419.52 L792.32,419.71 L793.74,419.89 L795.16,420.06 L796.58,420.23 L798.00,420.40 L799.42,420.57 L800.84,420.73 L802.25,420.88 L803.67,421.03 L805.09,421.18 L806.51,421.33 L807.93,421.47 L809.35,421.60 L810.77,421.74 L812.19,421.87 L813.61,421.99 L815.03,422.12 L816.45,422.23 L817.87,422.35 L819.28,422.46 L820.70,422.57 L822.12,422.68 L823.54,422.78 L824.96,422.88 L826.38,422.98 L827.80,423.07 L829.22,423.16 L830.64,423.25 L832.06,423.33 L833.48,423.42 L834.90,423.50 L836.32,423.57 L837.73,423.65 L839.15,423.72 L840.57,423.79 L841.99,423.85 L843.41,423.92 L844.83,423.98 L846.25,424.04 L847.67,424.09 L849.09,424.15 L850.51,424.20 L851.93,424.25 L853.35,424.30 L854.76,424.35 L856.18,424.39 L857.60,424.44 L859.02,424.48 L860.44,424.52 L861.86,424.55 L863.28,424.59 L864.70,424.63 L866.12,424.66 L867.54,424.69 L868.96,424.72 L870.38,424.75 L871.79,424.78 L873.21,424.80 L874.63,424.83 L876.05,424.85 L877.47,424.87 L878.89,424.89 L880.31,424.91 L881.73,424.93 L883.15,424.95 L884.57,424.97 L885.99,424.98 L887.40,425.00 L888.82,425.01 L890.24,425.03 L891.66,425.04 L893.08,425.05 L894.50,425.06 L895.92,425.07 L897.34,425.08 L898.76,425.09 L900.18,425.10 L901.60,425.11 L903.02,425.11 L904.43,425.12 L905.85,425.13 L907.27,425.13 L908.69,425.14 L910.11,425.15 L911.53,425.15 L912.95,425.16 L914.37,425.16 L915.79,425.16 L917.21,425.17 L918.63,425.17 L920.05,425.17 L921.47,425.18 L922.88,425.18 L924.30,425.18 L925.72,425.18 L927.14,425.18 L928.56,425.19 L929.98,425.19 L931.40,425.19 L932.82,425.19 L934.24,425.19 L935.66,425.19 L937.08,425.19 L938.50,425.19 L939.91,425.20 L941.33,425.20 L942.75,425.20 L944.17,425.20 L945.59,425.20 L947.01,425.20 L948.43,425.20 L949.85,425.20 L951.27,425.20 L952.69,425.20 L954.11,425.20 L955.52,425.20 L956.94,425.20 L958.36,425.20 L959.78,425.20 L961.20,425.20 L962.62,425.20 L964.04,425.20 L965.46,425.20 L966.88,425.20 L968.30,425.20 L969.72,425.20 L971.14,425.20 L972.55,425.20 L973.97,425.20 L975.39,425.20 L976.81,425.20 L978.23,425.20 L979.65,425.20 L981.07,425.20 L982.49,425.20 L983.91,425.20 L985.33,425.20 L986.75,425.20 L988.17,425.20 L989.59,425.20 L991.00,425.20 L992.42,425.20 L993.84,425.20 L995.26,425.20 L996.68,425.20 L998.10,425.20" stroke="#d6272b" stroke-dasharray="39.08 9.77 6.11 9.77"/>
</g>
<g stroke="#000" stroke-width="1.30" fill="none">
<rect x="146.60" y="1.50" width="851.50" height="192.70"/>
<line x1="146.60" y1="194.20" x2="146.60" y2="199.60"/>
<line x1="282.12" y1="194.20" x2="282.12" y2="199.60"/>
<line x1="417.64" y1="194.20" x2="417.64" y2="199.60"/>
<line x1="553.16" y1="194.20" x2="553.16" y2="199.60"/>
<line x1="688.68" y1="194.20" x2="688.68" y2="199.60"/>
<line x1="824.20" y1="194.20" x2="824.20" y2="199.60"/>
<line x1="959.72" y1="194.20" x2="959.72" y2="199.60"/>
<line x1="141.20" y1="194.20" x2="146.60" y2="194.20"/>
<line x1="141.20" y1="120.08" x2="146.60" y2="120.08"/>
<line x1="141.20" y1="45.97" x2="146.60" y2="45.97"/>
<rect x="146.60" y="232.40" width="851.50" height="192.80"/>
<line x1="146.60" y1="425.20" x2="146.60" y2="430.60"/>
<line x1="282.12" y1="425.20" x2="282.12" y2="430.60"/>
<line x1="417.64" y1="425.20" x2="417.64" y2="430.60"/>
<line x1="553.16" y1="425.20" x2="553.16" y2="430.60"/>
<line x1="688.68" y1="425.20" x2="688.68" y2="430.60"/>
<line x1="824.20" y1="425.20" x2="824.20" y2="430.60"/>
<line x1="959.72" y1="425.20" x2="959.72" y2="430.60"/>
<line x1="141.20" y1="425.20" x2="146.60" y2="425.20"/>
<line x1="141.20" y1="351.05" x2="146.60" y2="351.05"/>
<line x1="141.20" y1="276.89" x2="146.60" y2="276.89"/>
</g>
<g font-size="30.60" text-anchor="end">
<text x="135.90" y="205.40">0.00</text>
<text x="135.90" y="131.28">0.25</text>
<text x="135.90" y="57.17">0.50</text>
<text x="135.90" y="436.40">0.00</text>
<text x="135.90" y="362.25">0.25</text>
<text x="135.90" y="288.09">0.50</text>
</g>
<g font-size="30.60" text-anchor="middle">
<text x="146.60" y="457.60">0.0</text>
<text x="282.12" y="457.60">0.5</text>
<text x="417.64" y="457.60">1.0</text>
<text x="553.16" y="457.60">1.5</text>
<text x="688.68" y="457.60">2.0</text>
<text x="824.20" y="457.60">2.5</text>
<text x="959.72" y="457.60">3.0</text>
</g>
<rect x="396.84" y="454.6" width="7.14" height="4.2" fill="#fff"/>
<rect x="406.98" y="454.6" width="6.06" height="4.2" fill="#fff"/>
<rect x="532.36" y="454.6" width="7.14" height="4.2" fill="#fff"/>
<rect x="542.50" y="454.6" width="6.06" height="4.2" fill="#fff"/>
<g font-size="30.60">
<text x="154.8" y="25.7">(a)</text>
<text x="154.8" y="256.6">(b)</text>
</g>
<text class="it" x="572.9" y="500.6" font-size="44.30" text-anchor="middle">θ</text>
<line x1="519.60" y1="48.00" x2="593.10" y2="48.00" stroke="#3f7fb9" stroke-width="6.11" stroke-linecap="square"/>
<text font-size="36.70" y="61.00"><tspan class="it" x="622.60">m</tspan><tspan x="658.80" dy="-1">=</tspan><tspan x="686.60" dy="1">0</tspan></text>
<line x1="519.70" y1="100.10" x2="593.20" y2="100.10" stroke="#ef771a" stroke-width="6.11" stroke-dasharray="6.11 10.08"/>
<text font-size="36.70" y="113.00"><tspan class="it" x="622.60">m</tspan><tspan x="658.80" dy="-1">=</tspan><tspan x="687.50" dy="1">1</tspan></text>
<line x1="779.20" y1="48.00" x2="852.70" y2="48.00" stroke="#46ac31" stroke-width="6.11" stroke-dasharray="22.60 9.77"/>
<text font-size="36.70" y="61.00"><tspan class="it" x="882.30">m</tspan><tspan x="918.50" dy="-1">=</tspan><tspan x="946.30" dy="1">2</tspan></text>
<line x1="779.10" y1="100.10" x2="852.60" y2="100.10" stroke="#d6272b" stroke-width="6.11" stroke-dasharray="39.08 9.77 6.11 9.77"/>
<text font-size="36.70" y="113.00"><tspan class="it" x="882.30">m</tspan><tspan x="918.50" dy="-1">=</tspan><tspan x="946.30" dy="1">3</tspan></text>
<rect x="689.30" y="109.95" width="7.30" height="3.8" fill="#fff"/>
<rect x="700.22" y="109.95" width="7.20" height="3.8" fill="#fff"/>
<g transform="translate(51.70 173.20) rotate(-90)">
<text font-size="42.80" x="0.00" y="0.00">|</text>
<text font-size="44.94" x="15.00" y="0.00">Y</text>
<text class="it" font-size="29.96" x="40.60" y="12.40">Q</text>
<text class="it" font-size="29.96" x="63.70" y="12.40">,</text>
<text class="it" font-size="29.96" x="76.20" y="12.40">l</text>
<text class="it" font-size="29.96" x="83.80" y="12.40">,</text>
<text class="it" font-size="29.96" x="96.30" y="12.40">m</text>
<text font-size="42.80" x="123.70" y="0.00">|</text>
<text font-size="29.96" x="134.60" y="-29.80">2</text>
</g>
<g transform="translate(51.70 385.80) rotate(-90)">
<text font-size="42.80" x="0.00" y="0.00">|</text>
<text font-size="44.94" x="15.00" y="0.00">Y</text>
<text class="it" font-size="29.96" x="39.50" y="12.40">l</text>
<text class="it" font-size="29.96" x="47.10" y="12.40">,</text>
<text class="it" font-size="29.96" x="59.60" y="12.40">m</text>
<text font-size="42.80" x="87.00" y="0.00">|</text>
<text font-size="29.96" x="97.90" y="-29.80">2</text>
</g>
</svg>
</body></html>
